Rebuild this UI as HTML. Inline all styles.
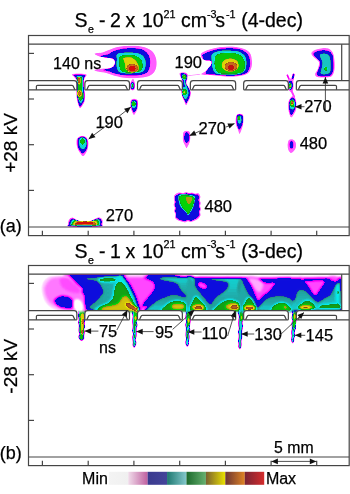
<!DOCTYPE html><html><head><meta charset="utf-8"><style>html,body{margin:0;padding:0;background:#fff;}svg{display:block;}</style></head><body>
<svg width="350" height="494" viewBox="0 0 350 494">
<defs><filter id="cm" filterUnits="userSpaceOnUse" x="0" y="0" width="350" height="494" color-interpolation-filters="sRGB"><feGaussianBlur stdDeviation="0.65"/><feComponentTransfer><feFuncR type="table" tableValues="1.000 1.000 1.000 1.000 1.000 1.000 1.000 1.000 1.000 1.000 1.000 1.000 1.000 1.000 1.000 1.000 1.000 1.000 1.000 1.000 1.000 1.000 1.000 1.000 1.000 1.000 1.000 1.000 1.000 1.000 1.000 1.000 1.000 1.000 1.000 1.000 1.000 1.000 1.000 1.000 1.000 1.000 1.000 1.000 1.000 1.000 1.000 1.000 0.980 0.969 0.958 0.946 0.935 0.923 0.912 0.900 0.889 0.877 0.866 0.855 0.020 0.022 0.025 0.027 0.029 0.032 0.034 0.037 0.039 0.042 0.044 0.047 0.049 0.051 0.054 0.056 0.059 0.061 0.064 0.066 0.069 0.071 0.074 0.076 0.137 0.135 0.133 0.131 0.129 0.127 0.125 0.124 0.122 0.120 0.098 0.088 0.078 0.069 0.059 0.049 0.039 0.029 0.020 0.010 0.098 0.093 0.088 0.083 0.078 0.074 0.069 0.064 0.059 0.054 0.049 0.044 0.039 0.034 0.029 0.025 0.020 0.015 0.010 0.005 0.647 0.663 0.678 0.694 0.710 0.725 0.741 0.757 0.773 0.788 0.804 0.820 0.835 0.851 0.867 0.882 0.898 0.914 0.929 0.945 0.549 0.566 0.582 0.599 0.616 0.632 0.649 0.666 0.682 0.699 0.716 0.732 0.749 0.766 0.782 0.799 0.816 0.832 0.849 0.866 0.745 0.752 0.759 0.765 0.772 0.779 0.785 0.792 0.799 0.805 0.812 0.819 0.826 0.832 0.839 0.846 0.852 0.859 0.866 0.873 0.879 0.886 0.893 0.899 0.906 0.913 0.920 0.926 0.933 0.940 0.946 0.953 0.960 0.966 0.973 0.980 0.987"/><feFuncG type="table" tableValues="1.000 1.000 1.000 1.000 1.000 1.000 0.980 0.959 0.937 0.915 0.893 0.871 0.850 0.828 0.806 0.784 0.763 0.741 0.719 0.697 0.675 0.654 0.632 0.610 0.588 0.565 0.542 0.520 0.497 0.474 0.451 0.428 0.405 0.382 0.359 0.337 0.314 0.291 0.268 0.245 0.222 0.199 0.176 0.154 0.131 0.108 0.085 0.062 0.000 0.000 0.000 0.000 0.000 0.000 0.000 0.000 0.000 0.000 0.000 0.000 0.020 0.022 0.025 0.027 0.029 0.032 0.034 0.037 0.039 0.042 0.044 0.047 0.049 0.051 0.054 0.056 0.059 0.061 0.064 0.066 0.069 0.071 0.074 0.076 0.529 0.549 0.569 0.588 0.608 0.627 0.647 0.667 0.686 0.706 0.765 0.784 0.804 0.824 0.843 0.863 0.882 0.902 0.922 0.941 0.529 0.548 0.567 0.585 0.604 0.623 0.641 0.660 0.678 0.697 0.716 0.734 0.753 0.772 0.790 0.809 0.827 0.846 0.865 0.883 0.549 0.569 0.588 0.608 0.627 0.647 0.667 0.686 0.706 0.725 0.745 0.765 0.784 0.804 0.824 0.843 0.863 0.882 0.902 0.922 0.235 0.248 0.261 0.274 0.286 0.299 0.312 0.325 0.337 0.350 0.363 0.375 0.388 0.401 0.414 0.426 0.439 0.452 0.465 0.477 0.078 0.076 0.074 0.072 0.070 0.068 0.066 0.064 0.062 0.060 0.058 0.056 0.054 0.052 0.050 0.047 0.045 0.043 0.041 0.039 0.037 0.035 0.033 0.031 0.029 0.027 0.025 0.023 0.021 0.019 0.017 0.014 0.012 0.010 0.008 0.006 0.004"/><feFuncB type="table" tableValues="1.000 1.000 1.000 1.000 1.000 1.000 1.000 1.000 1.000 1.000 1.000 1.000 1.000 1.000 1.000 1.000 1.000 1.000 1.000 1.000 1.000 1.000 1.000 1.000 1.000 1.000 1.000 1.000 1.000 1.000 1.000 1.000 1.000 1.000 1.000 1.000 1.000 1.000 1.000 1.000 1.000 1.000 1.000 1.000 1.000 1.000 1.000 1.000 0.980 0.975 0.971 0.966 0.961 0.956 0.951 0.946 0.941 0.936 0.931 0.926 0.933 0.929 0.924 0.920 0.915 0.910 0.906 0.901 0.897 0.892 0.888 0.883 0.878 0.874 0.869 0.865 0.860 0.856 0.851 0.846 0.842 0.837 0.833 0.828 0.490 0.514 0.537 0.561 0.584 0.608 0.631 0.655 0.678 0.702 0.765 0.784 0.804 0.824 0.843 0.863 0.882 0.902 0.922 0.941 0.118 0.112 0.106 0.100 0.094 0.088 0.082 0.076 0.071 0.065 0.059 0.053 0.047 0.041 0.035 0.029 0.024 0.018 0.012 0.006 0.098 0.093 0.088 0.083 0.078 0.074 0.069 0.064 0.059 0.054 0.049 0.044 0.039 0.034 0.029 0.025 0.020 0.015 0.010 0.005 0.098 0.099 0.100 0.101 0.102 0.103 0.104 0.105 0.106 0.107 0.108 0.109 0.110 0.111 0.112 0.113 0.114 0.115 0.116 0.117 0.078 0.076 0.074 0.072 0.070 0.068 0.066 0.064 0.062 0.060 0.058 0.056 0.054 0.052 0.050 0.047 0.045 0.043 0.041 0.039 0.037 0.035 0.033 0.031 0.029 0.027 0.025 0.023 0.021 0.019 0.017 0.014 0.012 0.010 0.008 0.006 0.004"/></feComponentTransfer></filter><filter id="cm2" filterUnits="userSpaceOnUse" x="0" y="240" width="350" height="254" color-interpolation-filters="sRGB"><feGaussianBlur stdDeviation="0.9"/><feComponentTransfer><feFuncR type="table" tableValues="1.000 1.000 1.000 1.000 1.000 1.000 1.000 1.000 1.000 1.000 1.000 1.000 1.000 1.000 1.000 1.000 1.000 1.000 1.000 1.000 1.000 1.000 1.000 1.000 1.000 1.000 1.000 1.000 1.000 1.000 1.000 1.000 1.000 1.000 1.000 1.000 1.000 1.000 1.000 1.000 1.000 1.000 1.000 1.000 1.000 1.000 1.000 1.000 0.980 0.969 0.958 0.946 0.935 0.923 0.912 0.900 0.889 0.877 0.866 0.855 0.020 0.022 0.025 0.027 0.029 0.032 0.034 0.037 0.039 0.042 0.044 0.047 0.049 0.051 0.054 0.056 0.059 0.061 0.064 0.066 0.069 0.071 0.074 0.076 0.137 0.135 0.133 0.131 0.129 0.127 0.125 0.124 0.122 0.120 0.098 0.088 0.078 0.069 0.059 0.049 0.039 0.029 0.020 0.010 0.098 0.093 0.088 0.083 0.078 0.074 0.069 0.064 0.059 0.054 0.049 0.044 0.039 0.034 0.029 0.025 0.020 0.015 0.010 0.005 0.647 0.663 0.678 0.694 0.710 0.725 0.741 0.757 0.773 0.788 0.804 0.820 0.835 0.851 0.867 0.882 0.898 0.914 0.929 0.945 0.549 0.566 0.582 0.599 0.616 0.632 0.649 0.666 0.682 0.699 0.716 0.732 0.749 0.766 0.782 0.799 0.816 0.832 0.849 0.866 0.745 0.752 0.759 0.765 0.772 0.779 0.785 0.792 0.799 0.805 0.812 0.819 0.826 0.832 0.839 0.846 0.852 0.859 0.866 0.873 0.879 0.886 0.893 0.899 0.906 0.913 0.920 0.926 0.933 0.940 0.946 0.953 0.960 0.966 0.973 0.980 0.987"/><feFuncG type="table" tableValues="1.000 1.000 1.000 1.000 1.000 1.000 0.980 0.959 0.937 0.915 0.893 0.871 0.850 0.828 0.806 0.784 0.763 0.741 0.719 0.697 0.675 0.654 0.632 0.610 0.588 0.565 0.542 0.520 0.497 0.474 0.451 0.428 0.405 0.382 0.359 0.337 0.314 0.291 0.268 0.245 0.222 0.199 0.176 0.154 0.131 0.108 0.085 0.062 0.000 0.000 0.000 0.000 0.000 0.000 0.000 0.000 0.000 0.000 0.000 0.000 0.020 0.022 0.025 0.027 0.029 0.032 0.034 0.037 0.039 0.042 0.044 0.047 0.049 0.051 0.054 0.056 0.059 0.061 0.064 0.066 0.069 0.071 0.074 0.076 0.529 0.549 0.569 0.588 0.608 0.627 0.647 0.667 0.686 0.706 0.765 0.784 0.804 0.824 0.843 0.863 0.882 0.902 0.922 0.941 0.529 0.548 0.567 0.585 0.604 0.623 0.641 0.660 0.678 0.697 0.716 0.734 0.753 0.772 0.790 0.809 0.827 0.846 0.865 0.883 0.549 0.569 0.588 0.608 0.627 0.647 0.667 0.686 0.706 0.725 0.745 0.765 0.784 0.804 0.824 0.843 0.863 0.882 0.902 0.922 0.235 0.248 0.261 0.274 0.286 0.299 0.312 0.325 0.337 0.350 0.363 0.375 0.388 0.401 0.414 0.426 0.439 0.452 0.465 0.477 0.078 0.076 0.074 0.072 0.070 0.068 0.066 0.064 0.062 0.060 0.058 0.056 0.054 0.052 0.050 0.047 0.045 0.043 0.041 0.039 0.037 0.035 0.033 0.031 0.029 0.027 0.025 0.023 0.021 0.019 0.017 0.014 0.012 0.010 0.008 0.006 0.004"/><feFuncB type="table" tableValues="1.000 1.000 1.000 1.000 1.000 1.000 1.000 1.000 1.000 1.000 1.000 1.000 1.000 1.000 1.000 1.000 1.000 1.000 1.000 1.000 1.000 1.000 1.000 1.000 1.000 1.000 1.000 1.000 1.000 1.000 1.000 1.000 1.000 1.000 1.000 1.000 1.000 1.000 1.000 1.000 1.000 1.000 1.000 1.000 1.000 1.000 1.000 1.000 0.980 0.975 0.971 0.966 0.961 0.956 0.951 0.946 0.941 0.936 0.931 0.926 0.933 0.929 0.924 0.920 0.915 0.910 0.906 0.901 0.897 0.892 0.888 0.883 0.878 0.874 0.869 0.865 0.860 0.856 0.851 0.846 0.842 0.837 0.833 0.828 0.490 0.514 0.537 0.561 0.584 0.608 0.631 0.655 0.678 0.702 0.765 0.784 0.804 0.824 0.843 0.863 0.882 0.902 0.922 0.941 0.118 0.112 0.106 0.100 0.094 0.088 0.082 0.076 0.071 0.065 0.059 0.053 0.047 0.041 0.035 0.029 0.024 0.018 0.012 0.006 0.098 0.093 0.088 0.083 0.078 0.074 0.069 0.064 0.059 0.054 0.049 0.044 0.039 0.034 0.029 0.025 0.020 0.015 0.010 0.005 0.098 0.099 0.100 0.101 0.102 0.103 0.104 0.105 0.106 0.107 0.108 0.109 0.110 0.111 0.112 0.113 0.114 0.115 0.116 0.117 0.078 0.076 0.074 0.072 0.070 0.068 0.066 0.064 0.062 0.060 0.058 0.056 0.054 0.052 0.050 0.047 0.045 0.043 0.041 0.039 0.037 0.035 0.033 0.031 0.029 0.027 0.025 0.023 0.021 0.019 0.017 0.014 0.012 0.010 0.008 0.006 0.004"/></feComponentTransfer></filter></defs>
<rect width="350" height="494" fill="#fff"/>
<g filter="url(#cm)"><rect x="0" y="0" width="350" height="240" fill="#000"/><rect x="0" y="310.6" width="350" height="183.4" fill="#000"/>
<path d="M94.5 53.6 C95.17 52.88 100.42 52.87 103 52.2 C105.58 51.53 107.83 50.42 110 49.6 C112.17 48.78 114 47.87 116 47.3 C118 46.73 119.17 46.45 122 46.2 C124.83 45.95 129.33 45.67 133 45.8 C136.67 45.93 140.83 46.13 144 47 C147.17 47.87 150 49.17 152 51 C154 52.83 155.25 55.5 156 58 C156.75 60.5 156.83 63.58 156.5 66 C156.17 68.42 155.42 70.75 154 72.5 C152.58 74.25 150.67 75.58 148 76.5 C145.33 77.42 141.67 77.75 138 78 C134.33 78.25 129.83 78.33 126 78 C122.17 77.67 118.33 76.83 115 76 C111.67 75.17 109 73.75 106 73 C103 72.25 98.92 72 97 71.5 C95.08 71 93.83 70.45 94.5 70 C95.17 69.55 98.42 69.13 101 68.8 C103.58 68.47 107.83 68.63 110 68 C112.17 67.37 113.17 66 114 65 C114.83 64 115.17 63 115 62 C114.83 61 114.33 59.7 113 59 C111.67 58.3 109.33 58.22 107 57.8 C104.67 57.38 101.08 57.2 99 56.5 C96.92 55.8 93.83 54.32 94.5 53.6Z" fill="rgb(43,43,43)"/>
<path d="M100.5 56.2 C100.83 55.65 105.75 55.07 108 54.2 C110.25 53.33 112 51.82 114 51 C116 50.18 118 49.72 120 49.3 C122 48.88 123.17 48.62 126 48.5 C128.83 48.38 133.83 48.18 137 48.6 C140.17 49.02 142.92 49.6 145 51 C147.08 52.4 148.67 54.67 149.5 57 C150.33 59.33 150.33 62.5 150 65 C149.67 67.5 149.17 70.33 147.5 72 C145.83 73.67 143.25 74.42 140 75 C136.75 75.58 131.83 75.67 128 75.5 C124.17 75.33 120.17 74.67 117 74 C113.83 73.33 111.25 72.17 109 71.5 C106.75 70.83 103.5 70.48 103.5 70 C103.5 69.52 107.33 69.18 109 68.6 C110.67 68.02 112.5 67.55 113.5 66.5 C114.5 65.45 115.08 63.6 115 62.3 C114.92 61 114.5 59.5 113 58.7 C111.5 57.9 108.08 57.92 106 57.5 C103.92 57.08 100.17 56.75 100.5 56.2Z" fill="rgb(94,94,94)"/>
<path d="M117 54 C118.38 52.93 122 52.8 125 52.6 C128 52.4 132.17 52.4 135 52.8 C137.83 53.2 140.25 53.72 142 55 C143.75 56.28 144.92 58.5 145.5 60.5 C146.08 62.5 146 65.08 145.5 67 C145 68.92 144.42 70.95 142.5 72 C140.58 73.05 137.08 73.08 134 73.3 C130.92 73.52 126.58 73.6 124 73.3 C121.42 73 119.75 72.72 118.5 71.5 C117.25 70.28 116.8 68.08 116.5 66 C116.2 63.92 116.62 61 116.7 59 C116.78 57 115.62 55.07 117 54Z" fill="rgb(125,125,125)"/>
<path d="M120 56.5 C121.42 55.17 125.33 55.08 128 55 C130.67 54.92 133.83 55.25 136 56 C138.17 56.75 139.92 57.92 141 59.5 C142.08 61.08 142.5 63.67 142.5 65.5 C142.5 67.33 142.42 69.38 141 70.5 C139.58 71.62 136.67 71.92 134 72.2 C131.33 72.48 127.25 72.57 125 72.2 C122.75 71.83 121.42 71.53 120.5 70 C119.58 68.47 119.58 65.25 119.5 63 C119.42 60.75 118.58 57.83 120 56.5Z" fill="rgb(150,150,150)"/>
<path d="M123.6 58 C124.67 57.55 128.18 57.05 130 57.3 C131.82 57.55 133.25 58.47 134.5 59.5 C135.75 60.53 136.78 62.08 137.5 63.5 C138.22 64.92 138.97 66.67 138.8 68 C138.63 69.33 137.97 70.87 136.5 71.5 C135.03 72.13 131.78 72.13 130 71.8 C128.22 71.47 126.63 70.8 125.8 69.5 C124.97 68.2 125.37 65.58 125 64 C124.63 62.42 123.83 61 123.6 60 C123.37 59 122.53 58.45 123.6 58Z" fill="rgb(176,176,176)"/>
<ellipse cx="132.3" cy="68.3" rx="5.6" ry="4.3" fill="rgb(201,201,201)"/>
<ellipse cx="132.4" cy="68.3" rx="3" ry="2.6" fill="rgb(230,230,230)"/>
<path d="M188 75.8 L194 75 L200 74.2" fill="none" stroke="rgb(31,31,31)" stroke-width="1.1" stroke-linecap="round" stroke-linejoin="round"/>
<path d="M201.5 53 C202.95 51.68 206.92 50.3 210 49.3 C213.08 48.3 216.33 47.47 220 47 C223.67 46.53 228.17 46.25 232 46.5 C235.83 46.75 240 47.42 243 48.5 C246 49.58 248.5 50.92 250 53 C251.5 55.08 251.83 58.33 252 61 C252.17 63.67 252 66.75 251 69 C250 71.25 248.5 73.25 246 74.5 C243.5 75.75 239.67 76.17 236 76.5 C232.33 76.83 227.67 76.67 224 76.5 C220.33 76.33 217 75.75 214 75.5 C211 75.25 208.17 75.22 206 75 C203.83 74.78 201.17 74.78 201 74.2 C200.83 73.62 203.67 72.65 205 71.5 C206.33 70.35 208 68.42 209 67.3 C210 66.18 210.5 65.77 211 64.8 C211.5 63.83 212.33 62.25 212 61.5 C211.67 60.75 210.33 60.55 209 60.3 C207.67 60.05 205.28 60.52 204 60 C202.72 59.48 201.72 58.37 201.3 57.2 C200.88 56.03 200.05 54.32 201.5 53Z" fill="rgb(43,43,43)"/>
<path d="M203 54.5 C204.38 53.47 208.17 51.95 211 51 C213.83 50.05 216.5 49.25 220 48.8 C223.5 48.35 228.33 48.1 232 48.3 C235.67 48.5 239.33 48.97 242 50 C244.67 51.03 246.67 52.67 248 54.5 C249.33 56.33 249.75 58.75 250 61 C250.25 63.25 250.25 65.92 249.5 68 C248.75 70.08 247.75 72.25 245.5 73.5 C243.25 74.75 239.58 75.17 236 75.5 C232.42 75.83 227.67 75.67 224 75.5 C220.33 75.33 217 74.78 214 74.5 C211 74.22 207 74.77 206 73.8 C205 72.83 207.17 70.13 208 68.7 C208.83 67.27 210.23 66.32 211 65.2 C211.77 64.08 212.85 62.78 212.6 62 C212.35 61.22 210.85 60.82 209.5 60.5 C208.15 60.18 205.63 60.65 204.5 60.1 C203.37 59.55 202.95 58.13 202.7 57.2 C202.45 56.27 201.62 55.53 203 54.5Z" fill="rgb(94,94,94)"/>
<path d="M212 54 C213.25 52.5 216 51.57 219 51 C222 50.43 226.5 50.43 230 50.6 C233.5 50.77 237.42 50.93 240 52 C242.58 53.07 244.42 55 245.5 57 C246.58 59 246.58 61.75 246.5 64 C246.42 66.25 246.42 68.78 245 70.5 C243.58 72.22 241.17 73.62 238 74.3 C234.83 74.98 229.67 74.73 226 74.6 C222.33 74.47 218.25 74.6 216 73.5 C213.75 72.4 213.25 70.25 212.5 68 C211.75 65.75 211.58 62.33 211.5 60 C211.42 57.67 210.75 55.5 212 54Z" fill="rgb(125,125,125)"/>
<path d="M215.5 56 C216.7 54.88 219.25 53.8 222 53.3 C224.75 52.8 229 52.72 232 53 C235 53.28 238 53.83 240 55 C242 56.17 243.2 58.17 244 60 C244.8 61.83 244.97 64.08 244.8 66 C244.63 67.92 244.47 70.23 243 71.5 C241.53 72.77 238.83 73.25 236 73.6 C233.17 73.95 229 73.78 226 73.6 C223 73.42 219.83 73.6 218 72.5 C216.17 71.4 215.53 69.08 215 67 C214.47 64.92 214.72 61.83 214.8 60 C214.88 58.17 214.3 57.12 215.5 56Z" fill="rgb(150,150,150)"/>
<ellipse cx="230.2" cy="65" rx="8.6" ry="6.6" fill="rgb(176,176,176)"/>
<ellipse cx="231" cy="66.4" rx="6.2" ry="4.5" fill="rgb(201,201,201)"/>
<ellipse cx="231.2" cy="67.4" rx="3.3" ry="2.5" fill="rgb(215,215,215)"/>
<path d="M311.5 52.5 C312.08 51.42 314.25 50.22 316 49.5 C317.75 48.78 319.83 48.32 322 48.2 C324.17 48.08 327.17 48 329 48.8 C330.83 49.6 332.08 51.13 333 53 C333.92 54.87 334.25 57.17 334.5 60 C334.75 62.83 335 67.25 334.5 70 C334 72.75 333.25 75.25 331.5 76.5 C329.75 77.75 326.42 77.42 324 77.5 C321.58 77.58 318.5 77.58 317 77 C315.5 76.42 314.92 75.25 315 74 C315.08 72.75 316.83 71.33 317.5 69.5 C318.17 67.67 319.08 64.58 319 63 C318.92 61.42 318.08 61.17 317 60 C315.92 58.83 313.42 57.25 312.5 56 C311.58 54.75 310.92 53.58 311.5 52.5Z" fill="rgb(43,43,43)"/>
<path d="M313.5 53.2 C314.12 52.37 316.42 51.5 318 51 C319.58 50.5 321.17 50.17 323 50.2 C324.83 50.23 327.42 50.4 329 51.2 C330.58 52 331.78 53.37 332.5 55 C333.22 56.63 333.17 58.5 333.3 61 C333.43 63.5 333.77 67.58 333.3 70 C332.83 72.42 332.05 74.43 330.5 75.5 C328.95 76.57 326 76.32 324 76.4 C322 76.48 319.7 76.48 318.5 76 C317.3 75.52 316.75 74.75 316.8 73.5 C316.85 72.25 318.22 70.25 318.8 68.5 C319.38 66.75 320.4 64.5 320.3 63 C320.2 61.5 319.2 60.67 318.2 59.5 C317.2 58.33 315.08 57.05 314.3 56 C313.52 54.95 312.88 54.03 313.5 53.2Z" fill="rgb(94,94,94)"/>
<path d="M320 54.5 C320.75 53.77 323.5 53.43 325 53.6 C326.5 53.77 328.08 54.43 329 55.5 C329.92 56.57 330.2 58.08 330.5 60 C330.8 61.92 330.88 64.92 330.8 67 C330.72 69.08 330.97 71.25 330 72.5 C329.03 73.75 326.58 74.33 325 74.5 C323.42 74.67 321.08 74.58 320.5 73.5 C319.92 72.42 321.22 69.83 321.5 68 C321.78 66.17 322.37 64.17 322.2 62.5 C322.03 60.83 320.87 59.33 320.5 58 C320.13 56.67 319.25 55.23 320 54.5Z" fill="rgb(120,120,120)"/>
<ellipse cx="325.8" cy="68.7" rx="1.5" ry="2" fill="rgb(153,153,153)"/>
<path d="M72 74.3 C72.75 73.65 76.58 73.57 79 73.6 C81.42 73.63 85.42 73.93 86.5 74.5 C87.58 75.07 85.88 76.08 85.5 77 C85.12 77.92 84.4 78.17 84.2 80 C84 81.83 84.13 85.5 84.3 88 C84.47 90.5 85.12 92.83 85.2 95 C85.28 97.17 85.25 99.25 84.8 101 C84.35 102.75 83.3 104.28 82.5 105.5 C81.7 106.72 80.75 108.55 80 108.3 C79.25 108.05 78.58 105.88 78 104 C77.42 102.12 76.8 99.67 76.5 97 C76.2 94.33 76.2 90.67 76.2 88 C76.2 85.33 76.78 82.75 76.5 81 C76.22 79.25 75.25 78.62 74.5 77.5 C73.75 76.38 71.25 74.95 72 74.3Z" fill="rgb(43,43,43)"/>
<path d="M73.5 75 C74.07 74.5 77.03 74.47 79 74.5 C80.97 74.53 84.42 74.7 85.3 75.2 C86.18 75.7 84.58 76.62 84.3 77.5 C84.02 78.38 83.7 78.75 83.6 80.5 C83.5 82.25 83.55 85.58 83.7 88 C83.85 90.42 84.45 92.92 84.5 95 C84.55 97.08 84.42 98.92 84 100.5 C83.58 102.08 82.67 103.45 82 104.5 C81.33 105.55 80.62 107.05 80 106.8 C79.38 106.55 78.77 104.63 78.3 103 C77.83 101.37 77.43 99.5 77.2 97 C76.97 94.5 76.92 90.67 76.9 88 C76.88 85.33 77.32 82.75 77.1 81 C76.88 79.25 76.2 78.5 75.6 77.5 C75 76.5 72.93 75.5 73.5 75Z" fill="rgb(94,94,94)"/>
<path d="M76.5 76.5 C76.9 75.67 78.95 75.92 80 76 C81.05 76.08 82.33 76.17 82.8 77 C83.27 77.83 82.78 79.17 82.8 81 C82.82 82.83 82.77 85.67 82.9 88 C83.03 90.33 83.58 93 83.6 95 C83.62 97 83.43 98.67 83 100 C82.57 101.33 81.67 102.83 81 103 C80.33 103.17 79.53 102.17 79 101 C78.47 99.83 78.03 98.17 77.8 96 C77.57 93.83 77.63 90.5 77.6 88 C77.57 85.5 77.78 82.92 77.6 81 C77.42 79.08 76.1 77.33 76.5 76.5Z" fill="rgb(125,125,125)"/>
<path d="M77.4 77.3 C77.75 76.47 79.23 76.8 80 77 C80.77 77.2 81.65 77.17 82 78.5 C82.35 79.83 82.05 82.75 82.1 85 C82.15 87.25 82.23 89.83 82.3 92 C82.37 94.17 82.8 96.58 82.5 98 C82.2 99.42 81.15 100.58 80.5 100.5 C79.85 100.42 78.98 99.25 78.6 97.5 C78.22 95.75 78.32 92.58 78.2 90 C78.08 87.42 78.03 84.12 77.9 82 C77.77 79.88 77.05 78.13 77.4 77.3Z" fill="rgb(150,150,150)"/>
<ellipse cx="79.2" cy="80.8" rx="1.5" ry="3.8" fill="rgb(176,176,176)"/>
<ellipse cx="79" cy="80.5" rx="1" ry="2.7" fill="rgb(201,201,201)"/>
<ellipse cx="79.4" cy="93.6" rx="2.4" ry="3.3" fill="rgb(176,176,176)"/>
<ellipse cx="79.3" cy="93.4" rx="1.5" ry="2" fill="rgb(201,201,201)"/>
<path d="M133 78.8 C133.65 78.8 134.37 80.8 134.7 82 C135.03 83.2 135.08 84.67 135 86 C134.92 87.33 134.87 89.33 134.2 90 C133.53 90.67 131.7 90.67 131 90 C130.3 89.33 130.03 87.33 130 86 C129.97 84.67 130.3 83.2 130.8 82 C131.3 80.8 132.35 78.8 133 78.8Z" fill="rgb(43,43,43)"/>
<ellipse cx="132.5" cy="85.8" rx="2.1" ry="3.8" fill="rgb(94,94,94)"/>
<ellipse cx="132.4" cy="85.6" rx="1.2" ry="2.8" fill="rgb(125,125,125)"/>
<ellipse cx="132.3" cy="85.2" rx="0.7" ry="1.6" fill="rgb(145,145,145)"/>
<path d="M179.7 73 C180.37 72.38 182.68 72.13 184 72.3 C185.32 72.47 187.02 72.88 187.6 74 C188.18 75.12 187.68 77.5 187.5 79 C187.32 80.5 186.33 81.67 186.5 83 C186.67 84.33 187.78 85.5 188.5 87 C189.22 88.5 190.55 90.17 190.8 92 C191.05 93.83 190.55 96.17 190 98 C189.45 99.83 188.17 101.73 187.5 103 C186.83 104.27 186.5 105.77 186 105.6 C185.5 105.43 185.17 103.6 184.5 102 C183.83 100.4 182.58 98 182 96 C181.42 94 180.92 92 181 90 C181.08 88 182.42 85.83 182.5 84 C182.58 82.17 181.92 80.33 181.5 79 C181.08 77.67 180.3 77 180 76 C179.7 75 179.03 73.62 179.7 73Z" fill="rgb(43,43,43)"/>
<path d="M180.5 74 C180.83 73.03 182.92 73.03 184 73.2 C185.08 73.37 186.53 74.03 187 75 C187.47 75.97 187 77.67 186.8 79 C186.6 80.33 185.6 81.67 185.8 83 C186 84.33 187.27 85.5 188 87 C188.73 88.5 189.95 90.33 190.2 92 C190.45 93.67 189.98 95.42 189.5 97 C189.02 98.58 187.88 100.42 187.3 101.5 C186.72 102.58 186.47 103.75 186 103.5 C185.53 103.25 185.08 101.25 184.5 100 C183.92 98.75 182.95 97.67 182.5 96 C182.05 94.33 181.68 92 181.8 90 C181.92 88 183.17 85.83 183.2 84 C183.23 82.17 182.45 80.67 182 79 C181.55 77.33 180.17 74.97 180.5 74Z" fill="rgb(94,94,94)"/>
<ellipse cx="184.2" cy="77.3" rx="2.3" ry="3" fill="rgb(125,125,125)"/>
<path d="M184.3 79 L185 84 L186.8 88" fill="none" stroke="rgb(125,125,125)" stroke-width="1.6" stroke-linecap="round" stroke-linejoin="round"/>
<path d="M182.5 88 C183.05 87.08 184.58 86.17 185.5 86.5 C186.42 86.83 187.5 88.75 188 90 C188.5 91.25 188.67 92.67 188.5 94 C188.33 95.33 187.58 97.17 187 98 C186.42 98.83 185.67 99.33 185 99 C184.33 98.67 183.47 97.17 183 96 C182.53 94.83 182.28 93.33 182.2 92 C182.12 90.67 181.95 88.92 182.5 88Z" fill="rgb(125,125,125)"/>
<ellipse cx="184.2" cy="77" rx="1.8" ry="2.2" fill="rgb(148,148,148)"/>
<ellipse cx="184.5" cy="92.3" rx="2.2" ry="3" fill="rgb(148,148,148)"/>
<ellipse cx="184.3" cy="92.3" rx="0.9" ry="1.1" fill="rgb(178,178,178)"/>
<ellipse cx="184.1" cy="76.8" rx="0.6" ry="0.7" fill="rgb(168,168,168)"/>
<path d="M287.3 75.2 L289.4 80" fill="none" stroke="rgb(66,66,66)" stroke-width="1.8" stroke-linecap="round" stroke-linejoin="round"/>
<path d="M293.6 74.6 L292.2 80" fill="none" stroke="rgb(87,87,87)" stroke-width="2.2" stroke-linecap="round" stroke-linejoin="round"/>
<path d="M288 79.5 C288.77 78.5 291.88 78.25 292.8 79 C293.72 79.75 293.43 82.17 293.5 84 C293.57 85.83 293.58 88.67 293.2 90 C292.82 91.33 291.97 92 291.2 92 C290.43 92 289.1 91.17 288.6 90 C288.1 88.83 288.3 86.75 288.2 85 C288.1 83.25 287.23 80.5 288 79.5Z" fill="rgb(43,43,43)"/>
<ellipse cx="290.6" cy="85.3" rx="2.2" ry="4.6" fill="rgb(94,94,94)"/>
<ellipse cx="290.2" cy="85.8" rx="1.3" ry="3.1" fill="rgb(145,145,145)"/>
<ellipse cx="290.2" cy="86.2" rx="0.7" ry="1.6" fill="rgb(168,168,168)"/>
<path d="M291.5 91 L294.3 97" fill="none" stroke="rgb(51,51,51)" stroke-width="2" stroke-linecap="round" stroke-linejoin="round"/>
<path d="M292.5 96 C293.58 95.75 294.83 97.17 295.5 98.5 C296.17 99.83 296.42 102.08 296.5 104 C296.58 105.92 296.5 108.17 296 110 C295.5 111.83 294.33 113.75 293.5 115 C292.67 116.25 291.75 117.83 291 117.5 C290.25 117.17 289.5 114.92 289 113 C288.5 111.08 288 108.17 288 106 C288 103.83 288.25 101.67 289 100 C289.75 98.33 291.42 96.25 292.5 96Z" fill="rgb(43,43,43)"/>
<path d="M292.5 97.5 C293.33 97.42 294.45 98.42 295 99.5 C295.55 100.58 295.77 102.42 295.8 104 C295.83 105.58 295.7 107.42 295.2 109 C294.7 110.58 293.5 112.5 292.8 113.5 C292.1 114.5 291.55 115.42 291 115 C290.45 114.58 289.83 112.67 289.5 111 C289.17 109.33 288.92 106.83 289 105 C289.08 103.17 289.42 101.25 290 100 C290.58 98.75 291.67 97.58 292.5 97.5Z" fill="rgb(94,94,94)"/>
<ellipse cx="292.2" cy="104.5" rx="2.7" ry="5" fill="rgb(125,125,125)"/>
<ellipse cx="292.2" cy="103.6" rx="2.2" ry="3.6" fill="rgb(150,150,150)"/>
<ellipse cx="292.1" cy="102.9" rx="1.5" ry="2.2" fill="rgb(176,176,176)"/>
<ellipse cx="292.1" cy="102.5" rx="0.9" ry="1.2" fill="rgb(201,201,201)"/>
<path d="M131 100 C131.62 99.3 132.92 98.8 134 98.8 C135.08 98.8 136.8 99.13 137.5 100 C138.2 100.87 138.2 102.5 138.2 104 C138.2 105.5 137.95 107.5 137.5 109 C137.05 110.5 136.08 112 135.5 113 C134.92 114 134.58 115.17 134 115 C133.42 114.83 132.58 113.33 132 112 C131.42 110.67 130.78 108.5 130.5 107 C130.22 105.5 130.22 104.17 130.3 103 C130.38 101.83 130.38 100.7 131 100Z" fill="rgb(43,43,43)"/>
<path d="M131.8 100.5 C132.27 99.97 133.17 99.75 134 99.8 C134.83 99.85 136.23 100.1 136.8 100.8 C137.37 101.5 137.4 102.72 137.4 104 C137.4 105.28 137.2 107.25 136.8 108.5 C136.4 109.75 135.52 110.83 135 111.5 C134.48 112.17 134.15 112.75 133.7 112.5 C133.25 112.25 132.7 111.08 132.3 110 C131.9 108.92 131.48 107.17 131.3 106 C131.12 104.83 131.12 103.92 131.2 103 C131.28 102.08 131.33 101.03 131.8 100.5Z" fill="rgb(94,94,94)"/>
<ellipse cx="133.8" cy="104.5" rx="2.4" ry="3.8" fill="rgb(125,125,125)"/>
<ellipse cx="133.7" cy="103.9" rx="2" ry="2.3" fill="rgb(150,150,150)"/>
<path d="M77.5 138 C78.43 136.97 80.5 135.88 82 135.8 C83.5 135.72 85.43 136.47 86.5 137.5 C87.57 138.53 88.15 140.25 88.4 142 C88.65 143.75 88.4 146.17 88 148 C87.6 149.83 86.83 151.62 86 153 C85.17 154.38 84 156.3 83 156.3 C82 156.3 80.95 154.38 80 153 C79.05 151.62 77.9 149.83 77.3 148 C76.7 146.17 76.37 143.67 76.4 142 C76.43 140.33 76.57 139.03 77.5 138Z" fill="rgb(43,43,43)"/>
<path d="M78.2 138.5 C78.95 137.58 80.7 136.58 82 136.5 C83.3 136.42 85.08 137.08 86 138 C86.92 138.92 87.3 140.42 87.5 142 C87.7 143.58 87.57 145.92 87.2 147.5 C86.83 149.08 86.08 150.5 85.3 151.5 C84.52 152.5 83.38 153.58 82.5 153.5 C81.62 153.42 80.75 152.08 80 151 C79.25 149.92 78.42 148.5 78 147 C77.58 145.5 77.47 143.42 77.5 142 C77.53 140.58 77.45 139.42 78.2 138.5Z" fill="rgb(94,94,94)"/>
<path d="M79.4 139 C79.95 137.83 81.48 137.5 82.5 137.5 C83.52 137.5 84.83 138.17 85.5 139 C86.17 139.83 86.42 141.25 86.5 142.5 C86.58 143.75 86.5 145.38 86 146.5 C85.5 147.62 84.38 148.95 83.5 149.2 C82.62 149.45 81.42 148.78 80.7 148 C79.98 147.22 79.42 146 79.2 144.5 C78.98 143 78.85 140.17 79.4 139Z" fill="rgb(125,125,125)"/>
<ellipse cx="82.4" cy="141.4" rx="2.2" ry="3" fill="rgb(148,148,148)"/>
<path d="M183.5 132 C184.12 131.13 185.45 130.8 186.5 130.8 C187.55 130.8 189.15 130.97 189.8 132 C190.45 133.03 190.4 135.33 190.4 137 C190.4 138.67 190.2 140.5 189.8 142 C189.4 143.5 188.55 144.97 188 146 C187.45 147.03 187 148.28 186.5 148.2 C186 148.12 185.58 146.7 185 145.5 C184.42 144.3 183.37 142.58 183 141 C182.63 139.42 182.72 137.5 182.8 136 C182.88 134.5 182.88 132.87 183.5 132Z" fill="rgb(43,43,43)"/>
<ellipse cx="186.8" cy="137.5" rx="2.7" ry="5.4" fill="rgb(89,89,89)"/>
<path d="M237 114.5 C237.7 113.63 238.8 113.72 239.8 113.8 C240.8 113.88 242.37 114.05 243 115 C243.63 115.95 243.6 117.83 243.6 119.5 C243.6 121.17 243.35 123.25 243 125 C242.65 126.75 242.08 128.5 241.5 130 C240.92 131.5 240.08 134 239.5 134 C238.92 134 238.58 131.5 238 130 C237.42 128.5 236.4 126.83 236 125 C235.6 123.17 235.43 120.75 235.6 119 C235.77 117.25 236.3 115.37 237 114.5Z" fill="rgb(43,43,43)"/>
<path d="M237.3 115 C237.85 114.4 238.92 114.3 239.8 114.4 C240.68 114.5 242.07 114.75 242.6 115.6 C243.13 116.45 243.03 118.02 243 119.5 C242.97 120.98 242.82 123 242.4 124.5 C241.98 126 241.07 127.67 240.5 128.5 C239.93 129.33 239.5 129.83 239 129.5 C238.5 129.17 237.92 127.75 237.5 126.5 C237.08 125.25 236.67 123.42 236.5 122 C236.33 120.58 236.37 119.17 236.5 118 C236.63 116.83 236.75 115.6 237.3 115Z" fill="rgb(94,94,94)"/>
<ellipse cx="239.5" cy="119.8" rx="2" ry="4" fill="rgb(125,125,125)"/>
<ellipse cx="239" cy="118" rx="1.3" ry="2" fill="rgb(148,148,148)"/>
<path d="M288.5 140.5 C289.17 139.47 290.5 139.3 291.5 139.3 C292.5 139.3 293.73 139.72 294.5 140.5 C295.27 141.28 295.93 142.67 296.1 144 C296.27 145.33 296.02 147.17 295.5 148.5 C294.98 149.83 293.83 151.25 293 152 C292.17 152.75 291.28 153.33 290.5 153 C289.72 152.67 288.8 151.25 288.3 150 C287.8 148.75 287.47 147.08 287.5 145.5 C287.53 143.92 287.83 141.53 288.5 140.5Z" fill="rgb(43,43,43)"/>
<ellipse cx="291.5" cy="144.8" rx="1.9" ry="4" fill="rgb(89,89,89)"/>
<path d="M174.2 195.5 C174.73 194.5 176.03 193.52 177 193 C177.97 192.48 179 192.4 180 192.4 C181 192.4 182 193.07 183 193 C184 192.93 185 192.03 186 192 C187 191.97 188 192.73 189 192.8 C190 192.87 190.92 192.28 192 192.4 C193.08 192.52 194.42 193.37 195.5 193.5 C196.58 193.63 197.67 192.7 198.5 193.2 C199.33 193.7 200.28 195.37 200.5 196.5 C200.72 197.63 199.75 198.92 199.8 200 C199.85 201.08 200.73 202 200.8 203 C200.87 204 200.17 205 200.2 206 C200.23 207 201 208 201 209 C201 210 200.27 210.92 200.2 212 C200.13 213.08 200.97 214.33 200.6 215.5 C200.23 216.67 199.02 218.12 198 219 C196.98 219.88 195.67 220.3 194.5 220.8 C193.33 221.3 192.08 221.93 191 222 C189.92 222.07 189 221.13 188 221.2 C187 221.27 186.17 222.33 185 222.4 C183.83 222.47 182.25 221.97 181 221.6 C179.75 221.23 178.5 220.83 177.5 220.2 C176.5 219.57 175.37 218.83 175 217.8 C174.63 216.77 175.47 215.13 175.3 214 C175.13 212.87 174.08 212 174 211 C173.92 210 174.87 209 174.8 208 C174.73 207 173.67 206 173.6 205 C173.53 204 174.37 203 174.4 202 C174.43 201 173.83 200.08 173.8 199 C173.77 197.92 173.67 196.5 174.2 195.5Z" fill="rgb(43,43,43)"/>
<path d="M175.5 196 C176 195.25 177.25 194.92 178 194.5 C178.75 194.08 179.17 193.58 180 193.5 C180.83 193.42 182 194.05 183 194 C184 193.95 185 193.23 186 193.2 C187 193.17 188 193.75 189 193.8 C190 193.85 191 193.38 192 193.5 C193 193.62 194.08 194.37 195 194.5 C195.92 194.63 196.78 193.88 197.5 194.3 C198.22 194.72 199.13 196.05 199.3 197 C199.47 197.95 198.47 199 198.5 200 C198.53 201 199.42 202 199.5 203 C199.58 204 198.95 205 199 206 C199.05 207 199.8 208 199.8 209 C199.8 210 199.05 211 199 212 C198.95 213 199.83 214 199.5 215 C199.17 216 197.92 217.25 197 218 C196.08 218.75 195 219.03 194 219.5 C193 219.97 192 220.72 191 220.8 C190 220.88 189 219.97 188 220 C187 220.03 186.17 220.95 185 221 C183.83 221.05 182.17 220.63 181 220.3 C179.83 219.97 178.83 219.55 178 219 C177.17 218.45 176.28 217.83 176 217 C175.72 216.17 176.47 215 176.3 214 C176.13 213 175.08 212 175 211 C174.92 210 175.83 209 175.8 208 C175.77 207 174.85 206 174.8 205 C174.75 204 175.47 203 175.5 202 C175.53 201 175 200 175 199 C175 198 175 196.75 175.5 196Z" fill="rgb(94,94,94)"/>
<path d="M178.8 195.5 C179.93 194.08 183.33 194.33 186 194.5 C188.67 194.67 193.38 195.25 194.8 196.5 C196.22 197.75 194.8 200.08 194.5 202 C194.2 203.92 193.75 206.17 193 208 C192.25 209.83 190.8 211.75 190 213 C189.2 214.25 188.87 215.58 188.2 215.5 C187.53 215.42 187.12 213.75 186 212.5 C184.88 211.25 182.63 209.58 181.5 208 C180.37 206.42 179.65 205.08 179.2 203 C178.75 200.92 177.67 196.92 178.8 195.5Z" fill="rgb(130,130,130)"/>
<path d="M179.8 196.3 C180.75 195.22 183.67 195.33 186 195.5 C188.33 195.67 192.55 196.22 193.8 197.3 C195.05 198.38 193.8 200.3 193.5 202 C193.2 203.7 192.67 205.83 192 207.5 C191.33 209.17 190.13 210.95 189.5 212 C188.87 213.05 188.7 213.88 188.2 213.8 C187.7 213.72 187.48 212.63 186.5 211.5 C185.52 210.37 183.33 208.58 182.3 207 C181.27 205.42 180.72 203.78 180.3 202 C179.88 200.22 178.85 197.38 179.8 196.3Z" fill="rgb(153,153,153)"/>
<path d="M186.3 197 C187.2 196.47 191.18 196.97 192 197.8 C192.82 198.63 191.78 200.92 191.2 202 C190.62 203.08 189.27 204.47 188.5 204.3 C187.73 204.13 186.97 202.22 186.6 201 C186.23 199.78 185.4 197.53 186.3 197Z" fill="rgb(162,162,162)"/>
<path d="M68 224 C67.83 222.78 68.33 220.57 69 219.5 C69.67 218.43 71 217.72 72 217.6 C73 217.48 73.67 218.25 75 218.8 C76.33 219.35 77.5 220.55 80 220.9 C82.5 221.25 87.5 221.27 90 220.9 C92.5 220.53 93.5 219.3 95 218.7 C96.5 218.1 97.77 217.17 99 217.3 C100.23 217.43 101.82 218.38 102.4 219.5 C102.98 220.62 102.9 222.78 102.5 224 C102.1 225.22 105.42 226.33 100 226.8 C94.58 227.27 75.33 227.27 70 226.8 C64.67 226.33 68.17 225.22 68 224Z" fill="rgb(43,43,43)"/>
<path d="M69 224 C68.83 223 69.42 221.22 70 220.3 C70.58 219.38 71.67 218.63 72.5 218.5 C73.33 218.37 73.75 219.07 75 219.5 C76.25 219.93 77.5 220.83 80 221.1 C82.5 221.37 87.5 221.4 90 221.1 C92.5 220.8 93.5 219.78 95 219.3 C96.5 218.82 97.92 218.03 99 218.2 C100.08 218.37 101.08 219.33 101.5 220.3 C101.92 221.27 101.92 223 101.5 224 C101.08 225 104.08 225.92 99 226.3 C93.92 226.68 76 226.68 71 226.3 C66 225.92 69.17 225 69 224Z" fill="rgb(94,94,94)"/>
<path d="M70.5 224 C70.33 223.23 71 221.75 71.5 221 C72 220.25 72.75 219.62 73.5 219.5 C74.25 219.38 74.92 220 76 220.3 C77.08 220.6 77.67 221.13 80 221.3 C82.33 221.47 87.58 221.52 90 221.3 C92.42 221.08 93.17 220.35 94.5 220 C95.83 219.65 97.08 219.03 98 219.2 C98.92 219.37 99.67 220.2 100 221 C100.33 221.8 100.33 223.23 100 224 C99.67 224.77 102.58 225.33 98 225.6 C93.42 225.87 77.08 225.87 72.5 225.6 C67.92 225.33 70.67 224.77 70.5 224Z" fill="rgb(125,125,125)"/>
<path d="M71.8 224 C71.6 223.37 72.35 222.12 72.8 221.5 C73.25 220.88 73.8 220.42 74.5 220.3 C75.2 220.18 76.08 220.6 77 220.8 C77.92 221 77.83 221.38 80 221.5 C82.17 221.62 87.67 221.65 90 221.5 C92.33 221.35 92.83 220.82 94 220.6 C95.17 220.38 96.2 220 97 220.2 C97.8 220.4 98.5 221.17 98.8 221.8 C99.1 222.43 99.1 223.42 98.8 224 C98.5 224.58 101.13 225.08 97 225.3 C92.87 225.52 78.2 225.52 74 225.3 C69.8 225.08 72 224.63 71.8 224Z" fill="rgb(150,150,150)"/>
<path d="M73.5 224 C73.3 223.47 73.88 222.47 74.3 222 C74.72 221.53 75.05 221.27 76 221.2 C76.95 221.13 77.67 221.53 80 221.6 C82.33 221.67 87.67 221.7 90 221.6 C92.33 221.5 93 221.05 94 221 C95 220.95 95.45 221.05 96 221.3 C96.55 221.55 97.13 221.97 97.3 222.5 C97.47 223.03 97.38 224.05 97 224.5 C96.62 224.95 98.58 225.08 95 225.2 C91.42 225.32 79.08 225.4 75.5 225.2 C71.92 225 73.7 224.53 73.5 224Z" fill="rgb(176,176,176)"/>
<path d="M75.5 223.8 C75.5 223.37 75.92 222.52 77 222.2 C78.08 221.88 79.83 221.95 82 221.9 C84.17 221.85 88 221.88 90 221.9 C92 221.92 93.08 221.78 94 222 C94.92 222.22 95.42 222.73 95.5 223.2 C95.58 223.67 97.58 224.53 94.5 224.8 C91.42 225.07 80.17 224.97 77 224.8 C73.83 224.63 75.5 224.23 75.5 223.8Z" fill="rgb(201,201,201)"/>
<ellipse cx="84.7" cy="222.9" rx="8.7" ry="1.3" fill="rgb(230,230,230)"/>
<path d="M77.5 226.2 L91.5 226.2" fill="none" stroke="rgb(94,94,94)" stroke-width="1.2" stroke-linecap="round" stroke-linejoin="round"/>
<path d="M77.8 309.5 C79.06 308.94 84.45 308.94 85.8 309.5 C87.15 310.06 85.96 311.91 85.87 312.86 C85.79 313.81 85.35 314.43 85.29 315.22 C85.23 316 85.45 316.79 85.5 317.57 C85.54 318.36 85.64 319.15 85.56 319.93 C85.47 320.72 85.08 321.51 84.99 322.29 C84.9 323.08 84.95 323.86 85.02 324.65 C85.09 325.44 85.53 326.22 85.42 327.01 C85.31 327.79 84.42 328.58 84.35 329.37 C84.28 330.15 84.95 330.94 85.01 331.73 C85.07 332.51 84.81 333.3 84.7 334.08 C84.6 334.87 84.42 335.66 84.37 336.44 C84.32 337.23 84.86 338.01 84.4 338.8 C83.94 339.59 82.53 341.2 81.6 341.2 C80.67 341.2 79.37 339.59 78.8 338.8 C78.23 338.01 78.15 337.23 78.2 336.44 C78.25 335.66 79.06 334.87 79.1 334.08 C79.13 333.3 78.54 332.51 78.41 331.73 C78.28 330.94 78.31 330.15 78.33 329.37 C78.34 328.58 78.46 327.79 78.49 327.01 C78.52 326.22 78.6 325.44 78.49 324.65 C78.37 323.86 77.8 323.08 77.8 322.29 C77.79 321.51 78.41 320.72 78.46 319.93 C78.51 319.15 78.24 318.36 78.09 317.57 C77.95 316.79 77.57 316 77.6 315.22 C77.62 314.43 78.22 313.81 78.25 312.86 C78.29 311.91 76.54 310.06 77.8 309.5Z" fill="rgb(43,43,43)"/>
<path d="M78.3 309.5 C79.39 308.94 84.12 308.94 85.3 309.5 C86.48 310.06 85.46 311.91 85.37 312.86 C85.29 313.81 84.85 314.43 84.79 315.22 C84.73 316 84.95 316.79 85 317.57 C85.04 318.36 85.14 319.15 85.06 319.93 C84.97 320.72 84.58 321.51 84.49 322.29 C84.4 323.08 84.45 323.86 84.52 324.65 C84.59 325.44 85.03 326.22 84.92 327.01 C84.81 327.79 83.92 328.58 83.85 329.37 C83.78 330.15 84.45 330.94 84.51 331.73 C84.57 332.51 84.31 333.3 84.2 334.08 C84.1 334.87 83.92 335.66 83.87 336.44 C83.82 337.23 84.28 338.13 83.9 338.8 C83.52 339.47 82.37 340.45 81.6 340.45 C80.83 340.45 79.78 339.47 79.3 338.8 C78.82 338.13 78.65 337.23 78.7 336.44 C78.75 335.66 79.56 334.87 79.6 334.08 C79.63 333.3 79.04 332.51 78.91 331.73 C78.78 330.94 78.81 330.15 78.83 329.37 C78.84 328.58 78.96 327.79 78.99 327.01 C79.02 326.22 79.1 325.44 78.99 324.65 C78.87 323.86 78.3 323.08 78.3 322.29 C78.29 321.51 78.91 320.72 78.96 319.93 C79.01 319.15 78.74 318.36 78.59 317.57 C78.45 316.79 78.07 316 78.1 315.22 C78.12 314.43 78.72 313.81 78.75 312.86 C78.79 311.91 77.21 310.06 78.3 309.5Z" fill="rgb(94,94,94)"/>
<path d="M78.9 309.5 C79.79 308.94 83.72 308.94 84.7 309.5 C85.68 310.06 84.86 311.91 84.77 312.86 C84.69 313.81 84.25 314.43 84.19 315.22 C84.13 316 84.35 316.79 84.4 317.57 C84.44 318.36 84.54 319.15 84.46 319.93 C84.37 320.72 83.98 321.51 83.89 322.29 C83.8 323.08 83.85 323.86 83.92 324.65 C83.99 325.44 84.43 326.22 84.32 327.01 C84.21 327.79 83.32 328.58 83.25 329.37 C83.18 330.15 83.85 330.94 83.91 331.73 C83.97 332.51 83.71 333.3 83.6 334.08 C83.5 334.87 83.32 335.66 83.27 336.44 C83.22 337.23 83.58 338.28 83.3 338.8 C83.02 339.32 82.17 339.55 81.6 339.55 C81.03 339.55 80.28 339.32 79.9 338.8 C79.52 338.28 79.25 337.23 79.3 336.44 C79.35 335.66 80.16 334.87 80.2 334.08 C80.23 333.3 79.64 332.51 79.51 331.73 C79.38 330.94 79.41 330.15 79.43 329.37 C79.44 328.58 79.56 327.79 79.59 327.01 C79.62 326.22 79.7 325.44 79.59 324.65 C79.47 323.86 78.9 323.08 78.9 322.29 C78.89 321.51 79.51 320.72 79.56 319.93 C79.61 319.15 79.34 318.36 79.19 317.57 C79.05 316.79 78.67 316 78.7 315.22 C78.72 314.43 79.32 313.81 79.35 312.86 C79.39 311.91 78.01 310.06 78.9 309.5Z" fill="rgb(125,125,125)"/>
<path d="M79.5 309.5 C80.19 308.94 83.32 308.94 84.1 309.5 C84.88 310.06 84.26 311.91 84.17 312.86 C84.09 313.81 83.65 314.43 83.59 315.22 C83.53 316 83.75 316.79 83.8 317.57 C83.84 318.36 83.94 319.15 83.86 319.93 C83.77 320.72 83.38 321.51 83.29 322.29 C83.2 323.08 83.25 323.86 83.32 324.65 C83.39 325.44 83.83 326.22 83.72 327.01 C83.61 327.79 82.72 328.58 82.65 329.37 C82.58 330.15 83.25 330.94 83.31 331.73 C83.37 332.51 83.11 333.3 83 334.08 C82.9 334.87 82.72 335.66 82.67 336.44 C82.62 337.23 82.88 338.43 82.7 338.8 C82.52 339.17 81.97 338.65 81.6 338.65 C81.23 338.65 80.78 339.17 80.5 338.8 C80.22 338.43 79.85 337.23 79.9 336.44 C79.95 335.66 80.76 334.87 80.8 334.08 C80.83 333.3 80.24 332.51 80.11 331.73 C79.98 330.94 80.01 330.15 80.03 329.37 C80.04 328.58 80.16 327.79 80.19 327.01 C80.22 326.22 80.3 325.44 80.19 324.65 C80.07 323.86 79.5 323.08 79.5 322.29 C79.49 321.51 80.11 320.72 80.16 319.93 C80.21 319.15 79.94 318.36 79.79 317.57 C79.65 316.79 79.27 316 79.3 315.22 C79.32 314.43 79.92 313.81 79.95 312.86 C79.99 311.91 78.81 310.06 79.5 309.5Z" fill="rgb(150,150,150)"/>
<path d="M80.9 314.5 C81.37 313.08 83.33 313.08 83.8 314.5 C84.27 315.92 83.77 320.25 83.7 323 C83.63 325.75 83.62 328.92 83.4 331 C83.18 333.08 82.75 335.5 82.4 335.5 C82.05 335.5 81.53 333.08 81.3 331 C81.07 328.92 81.07 325.75 81 323 C80.93 320.25 80.43 315.92 80.9 314.5Z" fill="rgb(176,176,176)"/>
<ellipse cx="82.8" cy="321" rx="1.1" ry="2.6" fill="rgb(204,204,204)"/>
<ellipse cx="82.1" cy="332" rx="1" ry="2" fill="rgb(199,199,199)"/>
<path d="M132.1 309.5 C133.17 308.85 137.35 308.85 138.3 309.5 C139.25 310.15 137.81 312.28 137.8 313.42 C137.78 314.56 138.23 315.36 138.22 316.33 C138.21 317.31 137.92 318.28 137.75 319.25 C137.57 320.22 137.14 321.19 137.15 322.17 C137.16 323.14 137.85 324.11 137.81 325.08 C137.77 326.06 137.08 327.03 136.93 328 C136.77 328.97 136.88 329.94 136.88 330.92 C136.87 331.89 136.92 332.86 136.89 333.83 C136.87 334.81 136.87 335.78 136.71 336.75 C136.55 337.72 135.94 338.69 135.93 339.67 C135.93 340.64 136.66 341.61 136.67 342.58 C136.69 343.56 136.41 344.61 136 345.5 C135.59 346.39 134.8 347.9 134.2 347.9 C133.6 347.9 132.67 346.39 132.4 345.5 C132.13 344.61 132.57 343.56 132.55 342.58 C132.53 341.61 132.34 340.64 132.26 339.67 C132.18 338.69 131.98 337.72 132.07 336.75 C132.17 335.78 132.87 334.81 132.83 333.83 C132.78 332.86 131.88 331.89 131.81 330.92 C131.73 329.94 132.27 328.97 132.37 328 C132.47 327.03 132.46 326.06 132.4 325.08 C132.35 324.11 132.09 323.14 132.03 322.17 C131.98 321.19 131.99 320.22 132.06 319.25 C132.14 318.28 132.52 317.31 132.49 316.33 C132.46 315.36 131.94 314.56 131.87 313.42 C131.81 312.28 131.03 310.15 132.1 309.5Z" fill="rgb(43,43,43)"/>
<path d="M132.6 309.5 C133.5 308.85 137.02 308.85 137.8 309.5 C138.58 310.15 137.31 312.28 137.3 313.42 C137.28 314.56 137.73 315.36 137.72 316.33 C137.71 317.31 137.42 318.28 137.25 319.25 C137.07 320.22 136.64 321.19 136.65 322.17 C136.66 323.14 137.35 324.11 137.31 325.08 C137.27 326.06 136.58 327.03 136.43 328 C136.27 328.97 136.38 329.94 136.38 330.92 C136.37 331.89 136.42 332.86 136.39 333.83 C136.37 334.81 136.37 335.78 136.21 336.75 C136.05 337.72 135.44 338.69 135.43 339.67 C135.43 340.64 136.16 341.61 136.17 342.58 C136.19 343.56 135.83 344.74 135.5 345.5 C135.17 346.26 134.63 347.15 134.2 347.15 C133.77 347.15 133.09 346.26 132.9 345.5 C132.71 344.74 133.07 343.56 133.05 342.58 C133.03 341.61 132.84 340.64 132.76 339.67 C132.68 338.69 132.48 337.72 132.57 336.75 C132.67 335.78 133.37 334.81 133.33 333.83 C133.28 332.86 132.38 331.89 132.31 330.92 C132.23 329.94 132.77 328.97 132.87 328 C132.97 327.03 132.96 326.06 132.9 325.08 C132.85 324.11 132.59 323.14 132.53 322.17 C132.48 321.19 132.49 320.22 132.56 319.25 C132.64 318.28 133.02 317.31 132.99 316.33 C132.96 315.36 132.44 314.56 132.37 313.42 C132.31 312.28 131.7 310.15 132.6 309.5Z" fill="rgb(94,94,94)"/>
<path d="M133.1 309.5 C133.84 308.85 136.68 308.85 137.3 309.5 C137.92 310.15 136.81 312.28 136.8 313.42 C136.78 314.56 137.23 315.36 137.22 316.33 C137.21 317.31 136.92 318.28 136.75 319.25 C136.57 320.22 136.14 321.19 136.15 322.17 C136.16 323.14 136.85 324.11 136.81 325.08 C136.77 326.06 136.08 327.03 135.93 328 C135.77 328.97 135.88 329.94 135.88 330.92 C135.87 331.89 135.92 332.86 135.89 333.83 C135.87 334.81 135.87 335.78 135.71 336.75 C135.55 337.72 134.94 338.69 134.93 339.67 C134.93 340.64 135.66 341.61 135.67 342.58 C135.69 343.56 135.25 344.86 135 345.5 C134.75 346.14 134.47 346.4 134.2 346.4 C133.93 346.4 133.51 346.14 133.4 345.5 C133.29 344.86 133.57 343.56 133.55 342.58 C133.53 341.61 133.34 340.64 133.26 339.67 C133.18 338.69 132.98 337.72 133.07 336.75 C133.17 335.78 133.87 334.81 133.83 333.83 C133.78 332.86 132.88 331.89 132.81 330.92 C132.73 329.94 133.27 328.97 133.37 328 C133.47 327.03 133.46 326.06 133.4 325.08 C133.35 324.11 133.09 323.14 133.03 322.17 C132.98 321.19 132.99 320.22 133.06 319.25 C133.14 318.28 133.52 317.31 133.49 316.33 C133.46 315.36 132.94 314.56 132.87 313.42 C132.81 312.28 132.36 310.15 133.1 309.5Z" fill="rgb(125,125,125)"/>
<path d="M134 309.5 C134.44 308.85 136.08 308.85 136.4 309.5 C136.72 310.15 135.91 312.28 135.9 313.42 C135.88 314.56 136.33 315.36 136.32 316.33 C136.31 317.31 136.02 318.28 135.85 319.25 C135.67 320.22 135.24 321.19 135.25 322.17 C135.26 323.14 135.95 324.11 135.91 325.08 C135.87 326.06 135.18 327.03 135.03 328 C134.87 328.97 134.96 329.94 134.98 330.92 C134.99 331.89 135.14 332.86 135.11 333.83 C135.08 334.81 134.94 335.78 134.81 336.75 C134.69 337.72 134.34 338.69 134.35 339.67 C134.35 340.64 134.84 341.61 134.86 342.58 C134.88 343.56 134.56 345.09 134.45 345.5 C134.34 345.91 134.28 345.05 134.2 345.05 C134.12 345.05 133.92 345.91 133.95 345.5 C133.98 345.09 134.38 343.56 134.36 342.58 C134.34 341.61 133.91 340.64 133.85 339.67 C133.78 338.69 133.85 337.72 133.97 336.75 C134.1 335.78 134.65 334.81 134.61 333.83 C134.57 332.86 133.77 331.89 133.71 330.92 C133.65 329.94 134.17 328.97 134.27 328 C134.37 327.03 134.36 326.06 134.3 325.08 C134.25 324.11 133.99 323.14 133.93 322.17 C133.88 321.19 133.89 320.22 133.96 319.25 C134.04 318.28 134.42 317.31 134.39 316.33 C134.36 315.36 133.84 314.56 133.77 313.42 C133.71 312.28 133.56 310.15 134 309.5Z" fill="rgb(139,139,139)"/>
<ellipse cx="135.4" cy="317" rx="1.6" ry="5.5" fill="rgb(153,153,153)"/>
<ellipse cx="135.5" cy="318" rx="0.9" ry="1.9" fill="rgb(178,178,178)"/>
<ellipse cx="136.5" cy="311" rx="1.3" ry="1.6" fill="rgb(224,224,224)"/>
<path d="M185.4 309.5 C186.36 308.86 190.37 308.86 191.4 309.5 C192.43 310.14 191.72 312.22 191.59 313.33 C191.46 314.44 190.73 315.22 190.62 316.17 C190.52 317.11 190.91 318.06 190.94 319 C190.97 319.94 190.88 320.89 190.78 321.83 C190.68 322.78 190.47 323.72 190.34 324.67 C190.22 325.61 189.99 326.56 190.03 327.5 C190.07 328.44 190.67 329.39 190.57 330.33 C190.46 331.28 189.52 332.22 189.39 333.17 C189.27 334.11 189.77 335.06 189.82 336 C189.86 336.94 189.79 337.89 189.67 338.83 C189.55 339.78 189.17 340.72 189.08 341.67 C188.98 342.61 189.4 343.63 189.1 344.5 C188.8 345.37 187.9 346.9 187.3 346.9 C186.7 346.9 185.86 345.37 185.5 344.5 C185.14 343.63 185.04 342.61 185.11 341.67 C185.18 340.72 185.88 339.78 185.92 338.83 C185.95 337.89 185.4 336.94 185.3 336 C185.21 335.06 185.31 334.11 185.35 333.17 C185.4 332.22 185.53 331.28 185.57 330.33 C185.62 329.39 185.73 328.44 185.63 327.5 C185.53 326.56 184.91 325.61 184.96 324.67 C185.01 323.72 185.87 322.78 185.92 321.83 C185.97 320.89 185.37 319.94 185.26 319 C185.14 318.06 185.17 317.11 185.23 316.17 C185.3 315.22 185.64 314.44 185.67 313.33 C185.69 312.22 184.44 310.14 185.4 309.5Z" fill="rgb(43,43,43)"/>
<path d="M185.9 309.5 C186.69 308.86 190.04 308.86 190.9 309.5 C191.76 310.14 191.22 312.22 191.09 313.33 C190.96 314.44 190.23 315.22 190.12 316.17 C190.02 317.11 190.41 318.06 190.44 319 C190.47 319.94 190.38 320.89 190.28 321.83 C190.18 322.78 189.97 323.72 189.84 324.67 C189.72 325.61 189.49 326.56 189.53 327.5 C189.57 328.44 190.17 329.39 190.07 330.33 C189.96 331.28 189.02 332.22 188.89 333.17 C188.77 334.11 189.27 335.06 189.32 336 C189.36 336.94 189.29 337.89 189.17 338.83 C189.05 339.78 188.67 340.72 188.58 341.67 C188.48 342.61 188.81 343.75 188.6 344.5 C188.39 345.25 187.73 346.15 187.3 346.15 C186.87 346.15 186.28 345.25 186 344.5 C185.72 343.75 185.54 342.61 185.61 341.67 C185.68 340.72 186.38 339.78 186.42 338.83 C186.45 337.89 185.9 336.94 185.8 336 C185.71 335.06 185.81 334.11 185.85 333.17 C185.9 332.22 186.03 331.28 186.07 330.33 C186.12 329.39 186.23 328.44 186.13 327.5 C186.03 326.56 185.41 325.61 185.46 324.67 C185.51 323.72 186.37 322.78 186.42 321.83 C186.47 320.89 185.87 319.94 185.76 319 C185.64 318.06 185.67 317.11 185.73 316.17 C185.8 315.22 186.14 314.44 186.17 313.33 C186.19 312.22 185.11 310.14 185.9 309.5Z" fill="rgb(94,94,94)"/>
<path d="M186.4 309.5 C187.02 308.86 189.7 308.86 190.4 309.5 C191.1 310.14 190.72 312.22 190.59 313.33 C190.46 314.44 189.73 315.22 189.62 316.17 C189.52 317.11 189.91 318.06 189.94 319 C189.97 319.94 189.88 320.89 189.78 321.83 C189.68 322.78 189.47 323.72 189.34 324.67 C189.22 325.61 188.99 326.56 189.03 327.5 C189.07 328.44 189.67 329.39 189.57 330.33 C189.46 331.28 188.52 332.22 188.39 333.17 C188.27 334.11 188.77 335.06 188.82 336 C188.86 336.94 188.79 337.89 188.67 338.83 C188.55 339.78 188.17 340.72 188.08 341.67 C187.98 342.61 188.23 343.88 188.1 344.5 C187.97 345.12 187.57 345.4 187.3 345.4 C187.03 345.4 186.7 345.12 186.5 344.5 C186.3 343.88 186.04 342.61 186.11 341.67 C186.18 340.72 186.88 339.78 186.92 338.83 C186.95 337.89 186.4 336.94 186.3 336 C186.21 335.06 186.31 334.11 186.35 333.17 C186.4 332.22 186.53 331.28 186.57 330.33 C186.62 329.39 186.73 328.44 186.63 327.5 C186.53 326.56 185.91 325.61 185.96 324.67 C186.01 323.72 186.87 322.78 186.92 321.83 C186.97 320.89 186.37 319.94 186.26 319 C186.14 318.06 186.17 317.11 186.23 316.17 C186.3 315.22 186.64 314.44 186.67 313.33 C186.69 312.22 185.78 310.14 186.4 309.5Z" fill="rgb(125,125,125)"/>
<path d="M187.3 309.5 C187.62 308.86 189.1 308.86 189.5 309.5 C189.9 310.14 189.82 312.22 189.69 313.33 C189.56 314.44 188.83 315.22 188.72 316.17 C188.62 317.11 189.01 318.06 189.04 319 C189.07 319.94 188.98 320.89 188.88 321.83 C188.78 322.78 188.57 323.72 188.44 324.67 C188.32 325.61 188.09 326.56 188.13 327.5 C188.17 328.44 188.75 329.39 188.67 330.33 C188.58 331.28 187.75 332.22 187.62 333.17 C187.5 334.11 187.85 335.06 187.92 336 C187.99 336.94 188.14 337.89 188.04 338.83 C187.95 339.78 187.43 340.72 187.34 341.67 C187.26 342.61 187.56 344.1 187.55 344.5 C187.54 344.9 187.38 344.05 187.3 344.05 C187.22 344.05 187.13 344.9 187.05 344.5 C186.97 344.1 186.76 342.61 186.84 341.67 C186.93 340.72 187.48 339.78 187.54 338.83 C187.6 337.89 187.27 336.94 187.2 336 C187.13 335.06 187.08 334.11 187.12 333.17 C187.17 332.22 187.41 331.28 187.47 330.33 C187.54 329.39 187.63 328.44 187.53 327.5 C187.43 326.56 186.81 325.61 186.86 324.67 C186.91 323.72 187.77 322.78 187.82 321.83 C187.87 320.89 187.27 319.94 187.16 319 C187.04 318.06 187.07 317.11 187.13 316.17 C187.2 315.22 187.54 314.44 187.57 313.33 C187.59 312.22 186.98 310.14 187.3 309.5Z" fill="rgb(139,139,139)"/>
<ellipse cx="188.5" cy="319" rx="1.5" ry="6.5" fill="rgb(153,153,153)"/>
<ellipse cx="188.6" cy="320.5" rx="0.9" ry="2.2" fill="rgb(178,178,178)"/>
<path d="M238.3 309.5 C239.36 308.83 243.2 308.83 244.1 309.5 C245 310.17 243.8 312.36 243.71 313.54 C243.63 314.72 243.57 315.57 243.6 316.58 C243.62 317.6 244.02 318.61 243.87 319.62 C243.72 320.64 242.78 321.65 242.69 322.67 C242.6 323.68 243.3 324.69 243.32 325.71 C243.35 326.72 243.02 327.74 242.86 328.75 C242.7 329.76 242.43 330.78 242.36 331.79 C242.28 332.81 242.41 333.82 242.42 334.83 C242.43 335.85 242.53 336.86 242.39 337.88 C242.26 338.89 241.7 339.9 241.6 340.92 C241.5 341.93 241.81 342.94 241.79 343.96 C241.77 344.97 241.83 346.09 241.5 347 C241.17 347.91 240.37 349.4 239.8 349.4 C239.23 349.4 238.35 347.91 238.1 347 C237.85 346.09 238.37 344.97 238.32 343.96 C238.26 342.94 237.77 341.93 237.77 340.92 C237.77 339.9 238.23 338.89 238.33 337.88 C238.43 336.86 238.48 335.85 238.38 334.83 C238.28 333.82 237.68 332.81 237.72 331.79 C237.75 330.78 238.5 329.76 238.57 328.75 C238.65 327.74 238.24 326.72 238.16 325.71 C238.08 324.69 238.07 323.68 238.08 322.67 C238.1 321.65 238.19 320.64 238.27 319.62 C238.35 318.61 238.67 317.6 238.58 316.58 C238.5 315.57 237.81 314.72 237.77 313.54 C237.72 312.36 237.24 310.17 238.3 309.5Z" fill="rgb(43,43,43)"/>
<path d="M238.8 309.5 C239.69 308.83 242.86 308.83 243.6 309.5 C244.34 310.17 243.3 312.36 243.21 313.54 C243.13 314.72 243.07 315.57 243.1 316.58 C243.12 317.6 243.52 318.61 243.37 319.62 C243.22 320.64 242.28 321.65 242.19 322.67 C242.1 323.68 242.8 324.69 242.82 325.71 C242.85 326.72 242.52 327.74 242.36 328.75 C242.2 329.76 241.93 330.78 241.86 331.79 C241.78 332.81 241.91 333.82 241.92 334.83 C241.93 335.85 242.03 336.86 241.89 337.88 C241.76 338.89 241.2 339.9 241.1 340.92 C241 341.93 241.31 342.94 241.29 343.96 C241.27 344.97 241.25 346.22 241 347 C240.75 347.78 240.2 348.65 239.8 348.65 C239.4 348.65 238.76 347.78 238.6 347 C238.44 346.22 238.87 344.97 238.82 343.96 C238.76 342.94 238.27 341.93 238.27 340.92 C238.27 339.9 238.73 338.89 238.83 337.88 C238.93 336.86 238.98 335.85 238.88 334.83 C238.78 333.82 238.18 332.81 238.22 331.79 C238.25 330.78 239 329.76 239.07 328.75 C239.15 327.74 238.74 326.72 238.66 325.71 C238.58 324.69 238.57 323.68 238.58 322.67 C238.6 321.65 238.69 320.64 238.77 319.62 C238.85 318.61 239.17 317.6 239.08 316.58 C239 315.57 238.31 314.72 238.27 313.54 C238.22 312.36 237.91 310.17 238.8 309.5Z" fill="rgb(94,94,94)"/>
<path d="M239.4 309.5 C240.09 308.83 242.46 308.83 243 309.5 C243.54 310.17 242.7 312.36 242.61 313.54 C242.53 314.72 242.47 315.57 242.5 316.58 C242.52 317.6 242.92 318.61 242.77 319.62 C242.62 320.64 241.68 321.65 241.59 322.67 C241.5 323.68 242.2 324.69 242.22 325.71 C242.25 326.72 241.92 327.74 241.76 328.75 C241.6 329.76 241.33 330.78 241.26 331.79 C241.18 332.81 241.31 333.82 241.32 334.83 C241.33 335.85 241.43 336.86 241.29 337.88 C241.16 338.89 240.6 339.9 240.5 340.92 C240.4 341.93 240.71 342.94 240.69 343.96 C240.67 344.97 240.55 346.37 240.4 347 C240.25 347.63 240 347.75 239.8 347.75 C239.6 347.75 239.26 347.63 239.2 347 C239.14 346.37 239.47 344.97 239.42 343.96 C239.36 342.94 238.87 341.93 238.87 340.92 C238.87 339.9 239.33 338.89 239.43 337.88 C239.53 336.86 239.58 335.85 239.48 334.83 C239.38 333.82 238.78 332.81 238.82 331.79 C238.85 330.78 239.6 329.76 239.67 328.75 C239.75 327.74 239.34 326.72 239.26 325.71 C239.18 324.69 239.17 323.68 239.18 322.67 C239.2 321.65 239.29 320.64 239.37 319.62 C239.45 318.61 239.77 317.6 239.68 316.58 C239.6 315.57 238.91 314.72 238.87 313.54 C238.82 312.36 238.71 310.17 239.4 309.5Z" fill="rgb(125,125,125)"/>
<ellipse cx="241.4" cy="316.5" rx="1.4" ry="5" fill="rgb(150,150,150)"/>
<ellipse cx="241.6" cy="317.5" rx="0.8" ry="1.6" fill="rgb(173,173,173)"/>
<path d="M291.9 309.5 C292.85 308.91 296.69 308.91 297.7 309.5 C298.71 310.09 298.12 312.03 297.96 313.04 C297.81 314.06 296.94 314.74 296.77 315.58 C296.59 316.43 296.91 317.28 296.91 318.12 C296.91 318.97 296.87 319.82 296.76 320.67 C296.66 321.51 296.47 322.36 296.3 323.21 C296.13 324.06 295.77 324.9 295.76 325.75 C295.75 326.6 296.3 327.44 296.21 328.29 C296.13 329.14 295.45 329.99 295.26 330.83 C295.07 331.68 295.05 332.53 295.07 333.38 C295.08 334.22 295.46 335.07 295.35 335.92 C295.24 336.76 294.54 337.61 294.38 338.46 C294.22 339.31 294.68 340.18 294.4 341 C294.12 341.82 293.27 343.4 292.7 343.4 C292.13 343.4 291.29 341.82 291 341 C290.71 340.18 290.9 339.31 290.97 338.46 C291.05 337.61 291.43 336.76 291.45 335.92 C291.46 335.07 291.12 334.22 291.07 333.38 C291.02 332.53 291.06 331.68 291.15 330.83 C291.25 329.99 291.59 329.14 291.63 328.29 C291.68 327.44 291.5 326.6 291.42 325.75 C291.34 324.9 291.06 324.06 291.17 323.21 C291.29 322.36 292.11 321.51 292.14 320.67 C292.16 319.82 291.37 318.97 291.31 318.12 C291.25 317.28 291.65 316.43 291.77 315.58 C291.88 314.74 291.96 314.06 291.99 313.04 C292.01 312.03 290.95 310.09 291.9 309.5Z" fill="rgb(43,43,43)"/>
<path d="M292.4 309.5 C293.19 308.91 296.36 308.91 297.2 309.5 C298.04 310.09 297.62 312.03 297.46 313.04 C297.31 314.06 296.44 314.74 296.27 315.58 C296.09 316.43 296.41 317.28 296.41 318.12 C296.41 318.97 296.37 319.82 296.26 320.67 C296.16 321.51 295.97 322.36 295.8 323.21 C295.63 324.06 295.27 324.9 295.26 325.75 C295.25 326.6 295.8 327.44 295.71 328.29 C295.63 329.14 294.95 329.99 294.76 330.83 C294.57 331.68 294.55 332.53 294.57 333.38 C294.58 334.22 294.96 335.07 294.85 335.92 C294.74 336.76 294.04 337.61 293.88 338.46 C293.72 339.31 294.1 340.3 293.9 341 C293.7 341.7 293.1 342.65 292.7 342.65 C292.3 342.65 291.7 341.7 291.5 341 C291.3 340.3 291.4 339.31 291.47 338.46 C291.55 337.61 291.93 336.76 291.95 335.92 C291.96 335.07 291.62 334.22 291.57 333.38 C291.52 332.53 291.56 331.68 291.65 330.83 C291.75 329.99 292.09 329.14 292.13 328.29 C292.18 327.44 292 326.6 291.92 325.75 C291.84 324.9 291.56 324.06 291.67 323.21 C291.79 322.36 292.61 321.51 292.64 320.67 C292.66 319.82 291.87 318.97 291.81 318.12 C291.75 317.28 292.15 316.43 292.27 315.58 C292.38 314.74 292.46 314.06 292.49 313.04 C292.51 312.03 291.61 310.09 292.4 309.5Z" fill="rgb(94,94,94)"/>
<path d="M292.9 309.5 C293.52 308.91 296.02 308.91 296.7 309.5 C297.38 310.09 297.12 312.03 296.96 313.04 C296.81 314.06 295.94 314.74 295.77 315.58 C295.59 316.43 295.91 317.28 295.91 318.12 C295.91 318.97 295.87 319.82 295.76 320.67 C295.66 321.51 295.47 322.36 295.3 323.21 C295.13 324.06 294.77 324.9 294.76 325.75 C294.75 326.6 295.3 327.44 295.21 328.29 C295.13 329.14 294.45 329.99 294.26 330.83 C294.07 331.68 294.05 332.53 294.07 333.38 C294.08 334.22 294.46 335.07 294.35 335.92 C294.24 336.76 293.54 337.61 293.38 338.46 C293.22 339.31 293.51 340.43 293.4 341 C293.29 341.57 292.93 341.9 292.7 341.9 C292.47 341.9 292.12 341.57 292 341 C291.88 340.43 291.9 339.31 291.97 338.46 C292.05 337.61 292.43 336.76 292.45 335.92 C292.46 335.07 292.12 334.22 292.07 333.38 C292.02 332.53 292.06 331.68 292.15 330.83 C292.25 329.99 292.59 329.14 292.63 328.29 C292.68 327.44 292.5 326.6 292.42 325.75 C292.34 324.9 292.06 324.06 292.17 323.21 C292.29 322.36 293.11 321.51 293.14 320.67 C293.16 319.82 292.37 318.97 292.31 318.12 C292.25 317.28 292.65 316.43 292.77 315.58 C292.88 314.74 292.96 314.06 292.99 313.04 C293.01 312.03 292.28 310.09 292.9 309.5Z" fill="rgb(125,125,125)"/>
<path d="M293.8 309.5 C294.12 308.91 295.42 308.91 295.8 309.5 C296.18 310.09 296.22 312.03 296.06 313.04 C295.91 314.06 295.04 314.74 294.87 315.58 C294.69 316.43 295.01 317.28 295.01 318.12 C295.01 318.97 294.97 319.82 294.86 320.67 C294.76 321.51 294.57 322.36 294.4 323.21 C294.23 324.06 293.87 324.9 293.86 325.75 C293.85 326.6 294.38 327.44 294.31 328.29 C294.25 329.14 293.62 329.99 293.46 330.83 C293.29 331.68 293.29 332.53 293.32 333.38 C293.35 334.22 293.71 335.07 293.65 335.92 C293.58 336.76 293.04 337.61 292.93 338.46 C292.81 339.31 292.99 340.65 292.95 341 C292.91 341.35 292.78 340.55 292.7 340.55 C292.62 340.55 292.5 341.35 292.45 341 C292.4 340.65 292.31 339.31 292.43 338.46 C292.54 337.61 293.08 336.76 293.15 335.92 C293.21 335.07 292.85 334.22 292.82 333.38 C292.79 332.53 292.84 331.68 292.96 330.83 C293.08 329.99 293.47 329.14 293.53 328.29 C293.6 327.44 293.4 326.6 293.32 325.75 C293.24 324.9 292.96 324.06 293.07 323.21 C293.19 322.36 294.01 321.51 294.04 320.67 C294.06 319.82 293.27 318.97 293.21 318.12 C293.15 317.28 293.55 316.43 293.67 315.58 C293.78 314.74 293.86 314.06 293.89 313.04 C293.91 312.03 293.48 310.09 293.8 309.5Z" fill="rgb(139,139,139)"/>
<ellipse cx="294.5" cy="320" rx="1.5" ry="7.5" fill="rgb(153,153,153)"/>
<ellipse cx="294.8" cy="316.5" rx="0.9" ry="2.4" fill="rgb(176,176,176)"/>
</g>
<g filter="url(#cm2)"><rect x="0" y="240" width="350" height="71.6" fill="#000"/>
<defs><linearGradient id="tLR" x1="0" y1="0" x2="1" y2="0"><stop offset="0" stop-color="rgb(111,111,111)"/><stop offset="1" stop-color="rgb(124,124,124)"/></linearGradient><linearGradient id="tRL" x1="1" y1="0" x2="0" y2="0"><stop offset="0" stop-color="rgb(111,111,111)"/><stop offset="1" stop-color="rgb(124,124,124)"/></linearGradient><linearGradient id="tTB" x1="0" y1="0" x2="0" y2="1"><stop offset="0" stop-color="rgb(111,111,111)"/><stop offset="1" stop-color="rgb(124,124,124)"/></linearGradient><linearGradient id="tBT" x1="0" y1="1" x2="0" y2="0"><stop offset="0" stop-color="rgb(111,111,111)"/><stop offset="1" stop-color="rgb(124,124,124)"/></linearGradient></defs>
<rect x="64" y="274" width="278" height="37" fill="rgb(94,94,94)"/>
<path d="M41.5 290 C41.25 286.83 41.83 284.2 43 282 C44.17 279.8 46.33 277.87 48.5 276.8 C50.67 275.73 53.75 275.85 56 275.6 C58.25 275.35 60 275.35 62 275.3 C64 275.25 65.5 273.85 68 275.3 C70.5 276.75 74.67 281.8 77 284 C79.33 286.2 81.25 287.17 82 288.5 C82.75 289.83 81.2 290.75 81.5 292 C81.8 293.25 83.33 293.9 83.8 296 C84.27 298.1 84.17 302.1 84.3 304.6 C84.43 307.1 86.98 309.85 84.6 311 C82.22 312.15 74.27 311.5 70 311.5 C65.73 311.5 62.25 311.67 59 311 C55.75 310.33 52.92 309.17 50.5 307.5 C48.08 305.83 46 303.92 44.5 301 C43 298.08 41.75 293.17 41.5 290Z" fill="rgb(20,20,20)"/>
<path d="M44.5 290 C44.25 287.52 45 286.3 46 284.5 C47 282.7 48.83 280.35 50.5 279.2 C52.17 278.05 54.18 277.95 56 277.6 C57.82 277.25 59.4 277.2 61.4 277.1 C63.4 277 65.33 275.7 68 277 C70.67 278.3 74.97 283.02 77.4 284.9 C79.83 286.78 81.88 287.17 82.6 288.3 C83.32 289.43 81.42 290.42 81.7 291.7 C81.98 292.98 83.8 293.85 84.3 296 C84.8 298.15 84.57 302.1 84.7 304.6 C84.83 307.1 87.55 309.93 85.1 311 C82.65 312.07 73.85 311.23 70 311 C66.15 310.77 64.75 310.52 62 309.6 C59.25 308.68 55.92 307.2 53.5 305.5 C51.08 303.8 49 301.98 47.5 299.4 C46 296.82 44.75 292.48 44.5 290Z" fill="rgb(37,37,37)"/>
<path d="M60 279 C61 277.53 65.33 277.2 68 278.2 C70.67 279.2 74 283.2 76 285 C78 286.8 79.5 287.67 80 289 C80.5 290.33 80.67 292.5 79 293 C77.33 293.5 72.83 293 70 292 C67.17 291 63.67 289.17 62 287 C60.33 284.83 59 280.47 60 279Z" fill="rgb(47,47,47)"/>
<path d="M54.1 300.4 C54.35 299.27 56 297.97 57.5 297.2 C59 296.43 60.92 295.72 63.1 295.8 C65.28 295.88 68.93 296.67 70.6 297.7 C72.27 298.73 72.82 300.28 73.1 302 C73.38 303.72 73.48 306.95 72.3 308 C71.12 309.05 68.05 308.47 66 308.3 C63.95 308.13 61.67 307.72 60 307 C58.33 306.28 56.98 305.1 56 304 C55.02 302.9 53.85 301.53 54.1 300.4Z" fill="rgb(94,94,94)"/>
<ellipse cx="78.3" cy="305.6" rx="4.6" ry="6.6" fill="rgb(0,0,0)" transform="rotate(-22 78.3 305.6)"/>
<path d="M187 274 C212.5 273.53 315.33 273.45 341 274 C366.67 274.55 344.5 276.7 341 277.3 C337.5 277.9 326.83 277.52 320 277.6 C313.17 277.68 306.67 277.83 300 277.8 C293.33 277.77 286.67 277.4 280 277.4 C273.33 277.4 266.67 277.83 260 277.8 C253.33 277.77 247.5 277.27 240 277.2 C232.5 277.13 223.67 277.47 215 277.4 C206.33 277.33 192.67 277.37 188 276.8 C183.33 276.23 161.5 274.47 187 274Z" fill="rgb(8,8,8)"/>
<ellipse cx="195" cy="275.3" rx="3.5" ry="1.2" fill="rgb(0,0,0)"/>
<ellipse cx="253" cy="275.3" rx="8" ry="1.3" fill="rgb(5,5,5)"/>
<ellipse cx="320" cy="275.5" rx="8" ry="1.3" fill="rgb(8,8,8)"/>
<path d="M85.7 277.8 C87.7 277.32 93.95 277.47 98 277.3 C102.05 277.13 106.08 277.08 110 276.8 C113.92 276.52 118.42 274.15 121.5 275.6 C124.58 277.05 126.42 281.93 128.5 285.5 C130.58 289.07 132.5 293.42 134 297 C135.5 300.58 136.83 304.67 137.5 307 C138.17 309.33 142.58 310.33 138 311 C133.42 311.67 117.17 311.17 110 311 C102.83 310.83 98.62 310.58 95 310 C91.38 309.42 88.28 308.9 88.3 307.5 C88.32 306.1 92.75 303.92 95.1 301.6 C97.45 299.28 101.25 295.68 102.4 293.6 C103.55 291.52 102.92 291.1 102 289.1 C101.08 287.1 99.57 283.08 96.9 281.6 C94.23 280.12 87.87 280.83 86 280.2 C84.13 279.57 83.7 278.28 85.7 277.8Z" fill="url(#tLR)"/>
<path d="M117 276.6 C117.92 276.03 119.58 274.12 121.5 275.6 C123.42 277.08 126.42 281.93 128.5 285.5 C130.58 289.07 132.5 293.42 134 297 C135.5 300.58 136.83 304.67 137.5 307 C138.17 309.33 138.58 310.33 138 311 C137.42 311.67 135.08 313 134 311 C132.92 309 132.75 302.83 131.5 299 C130.25 295.17 128.5 291 126.5 288 C124.5 285 121.25 282.5 119.5 281 C117.75 279.5 116.42 279.73 116 279 C115.58 278.27 116.08 277.17 117 276.6Z" fill="rgb(130,130,130)"/>
<ellipse cx="107.6" cy="279.7" rx="9.3" ry="2.2" fill="rgb(142,142,142)" stroke="rgb(130,130,130)" stroke-width="1.3"/>
<path d="M116 283.5 C116.92 282.08 118.25 281.42 119.5 281.5 C120.75 281.58 122.17 282.58 123.5 284 C124.83 285.42 126.25 287.67 127.5 290 C128.75 292.33 130 295.5 131 298 C132 300.5 132.83 302.83 133.5 305 C134.17 307.17 141.08 310 135 311 C128.92 312 103.17 311.58 97 311 C90.83 310.42 97 308.5 98 307.5 C99 306.5 101.25 305.83 103 305 C104.75 304.17 106.92 303.67 108.5 302.5 C110.08 301.33 111.58 300.08 112.5 298 C113.42 295.92 113.42 292.42 114 290 C114.58 287.58 115.08 284.92 116 283.5Z" fill="rgb(140,140,140)" stroke="rgb(130,130,130)" stroke-width="1.3" stroke-linejoin="round"/>
<path d="M103 307.2 C104.17 306.33 107.67 306.37 110 305.8 C112.33 305.23 115.25 304.77 117 303.8 C118.75 302.83 119.53 301.22 120.5 300 C121.47 298.78 121.72 297.12 122.8 296.5 C123.88 295.88 125.72 295.72 127 296.3 C128.28 296.88 129.42 298.47 130.5 300 C131.58 301.53 132.75 303.67 133.5 305.5 C134.25 307.33 140.08 310.08 135 311 C129.92 311.92 108.33 311.63 103 311 C97.67 310.37 101.83 308.07 103 307.2Z" fill="rgb(172,172,172)"/>
<ellipse cx="131.4" cy="306.8" rx="6.6" ry="2.3" fill="rgb(198,198,198)" transform="rotate(28 131.4 306.8)"/>
<ellipse cx="136.2" cy="309.6" rx="1.9" ry="1.5" fill="rgb(224,224,224)"/>
<path d="M124.5 275 C126.45 273.3 139.25 274.53 142.5 275 C145.75 275.47 142.22 276.62 144 277.8 C145.78 278.98 151.45 280.33 153.2 282.1 C154.95 283.87 155.23 286 154.5 288.4 C153.77 290.8 150.58 294.1 148.8 296.5 C147.02 298.9 144.95 300.92 143.8 302.8 C142.65 304.68 142.4 306.43 141.9 307.8 C141.4 309.17 141.18 311.13 140.8 311 C140.42 310.87 140.33 309.33 139.6 307 C138.87 304.67 137.87 300.63 136.4 297 C134.93 293.37 132.78 288.87 130.8 285.2 C128.82 281.53 122.55 276.7 124.5 275Z" fill="rgb(48,48,48)"/>
<path d="M127 274.5 C130 274.12 143 274.12 146 274.5 C149 274.88 148 276.42 145 276.8 C142 277.18 131 277.18 128 276.8 C125 276.42 124 274.88 127 274.5Z" fill="rgb(15,15,15)"/>
<path d="M143 307.5 C143.58 306.8 145 306.72 146 306.8 C147 306.88 148.42 307.3 149 308 C149.58 308.7 150.58 310.5 149.5 311 C148.42 311.5 143.58 311.58 142.5 311 C141.42 310.42 142.42 308.2 143 307.5Z" fill="rgb(18,18,18)"/>
<path d="M158 278.6 C158.67 278.17 162.33 277.52 166 277.3 C169.67 277.08 175.33 277.25 180 277.3 C184.67 277.35 191.67 274.23 194 277.6 C196.33 280.97 195.05 294.33 194 297.5 C192.95 300.67 189.32 297.13 187.7 296.6 C186.08 296.07 185.58 295.55 184.3 294.3 C183.02 293.05 181 290.67 180 289.1 C179 287.53 179.45 286.03 178.3 284.9 C177.15 283.77 175.82 283.13 173.1 282.3 C170.38 281.47 164.52 280.52 162 279.9 C159.48 279.28 157.33 279.03 158 278.6Z" fill="url(#tBT)"/>
<path d="M146 311 C139.17 310.13 149 307.63 151 305.8 C153 303.97 155.5 301.57 158 300 C160.5 298.43 163.67 297.33 166 296.4 C168.33 295.47 169.67 294.57 172 294.4 C174.33 294.23 177.67 294.88 180 295.4 C182.33 295.92 184.17 296.73 186 297.5 C187.83 298.27 190 297.75 191 300 C192 302.25 199.5 309.17 192 311 C184.5 312.83 152.83 311.87 146 311Z" fill="url(#tTB)"/>
<path d="M162 311 C157.83 310.17 163.67 307.5 165 306 C166.33 304.5 168 302.97 170 302 C172 301.03 174.67 300.2 177 300.2 C179.33 300.2 182.08 301.03 184 302 C185.92 302.97 187.5 304.5 188.5 306 C189.5 307.5 194.42 310.17 190 311 C185.58 311.83 166.17 311.83 162 311Z" fill="rgb(140,140,140)" stroke="rgb(130,130,130)" stroke-width="0.5" stroke-linejoin="round"/>
<ellipse cx="178" cy="306.6" rx="7" ry="3.2" fill="rgb(173,173,173)"/>
<path d="M188 277.5 C188.5 272.25 189.43 277.57 191 279.5 C192.57 281.43 195.05 285.92 197.4 289.1 C199.75 292.28 203.1 296.17 205.1 298.6 C207.1 301.03 207.68 302.42 209.4 303.7 C211.12 304.98 214.63 305.08 215.4 306.3 C216.17 307.52 218.57 310.22 214 311 C209.43 311.78 192.33 316.58 188 311 C183.67 305.42 187.5 282.75 188 277.5Z" fill="rgb(116,116,116)"/>
<ellipse cx="202.4" cy="285.6" rx="4.8" ry="2.7" fill="rgb(48,48,48)" transform="rotate(25 202.4 285.6)"/>
<path d="M209.4 278.9 C209.4 278.53 208.9 277.87 214 277.8 C219.1 277.73 235.83 277.8 240 278.5 C244.17 279.2 239.25 280.08 239 282 C238.75 283.92 238.33 287.33 238.5 290 C238.67 292.67 238.75 296 240 298 C241.25 300 245 299.83 246 302 C247 304.17 251.67 309.5 246 311 C240.33 312.5 217.33 312.92 212 311 C206.67 309.08 212.23 302.57 214 299.5 C215.77 296.43 220.32 294.62 222.6 292.6 C224.88 290.58 226.98 289.12 227.7 287.4 C228.42 285.68 229.18 283.53 226.9 282.3 C224.62 281.07 216.92 280.57 214 280 C211.08 279.43 209.4 279.27 209.4 278.9Z" fill="url(#tBT)"/>
<path d="M190 311 C187.5 309.75 190.75 305.83 191.5 303.5 C192.25 301.17 193.58 298.17 194.5 297 C195.42 295.83 196 296 197 296.5 C198 297 199.33 298.58 200.5 300 C201.67 301.42 203 303.17 204 305 C205 306.83 208.83 310 206.5 311 C204.17 312 192.5 312.25 190 311Z" fill="rgb(140,140,140)" stroke="rgb(130,130,130)" stroke-width="0.5" stroke-linejoin="round"/>
<ellipse cx="198.2" cy="307.2" rx="6.6" ry="3.3" fill="rgb(172,172,172)"/>
<ellipse cx="198.4" cy="307.9" rx="4.6" ry="2" fill="rgb(196,196,196)"/>
<path d="M213 311 C208.58 310.33 214.67 308.42 216 307 C217.33 305.58 219 303.75 221 302.5 C223 301.25 225.67 299.83 228 299.5 C230.33 299.17 233 299.75 235 300.5 C237 301.25 238.75 302.25 240 304 C241.25 305.75 247 309.83 242.5 311 C238 312.17 217.42 311.67 213 311Z" fill="rgb(140,140,140)" stroke="rgb(130,130,130)" stroke-width="0.5" stroke-linejoin="round"/>
<ellipse cx="233.5" cy="306.6" rx="8" ry="3.6" fill="rgb(172,172,172)"/>
<ellipse cx="234.5" cy="307.2" rx="4.2" ry="2.1" fill="rgb(199,199,199)"/>
<path d="M240 278.8 C240.58 274.13 242.42 281.13 243.5 283 C244.58 284.87 245.33 287.83 246.5 290 C247.67 292.17 249.33 294.17 250.5 296 C251.67 297.83 252.58 298.5 253.5 301 C254.42 303.5 258.25 309.33 256 311 C253.75 312.67 242.67 316.37 240 311 C237.33 305.63 239.42 283.47 240 278.8Z" fill="rgb(116,116,116)"/>
<path d="M246.5 276.8 C247.5 275.47 254.75 276.47 257 277 C259.25 277.53 258.5 279 260 280 C261.5 281 263.5 282.5 266 283 C268.5 283.5 274 282.25 275 283 C276 283.75 273.07 286.05 272 287.5 C270.93 288.95 270.1 290.37 268.6 291.7 C267.1 293.03 264.72 294.07 263 295.5 C261.28 296.93 259.72 300.72 258.3 300.3 C256.88 299.88 255.72 295.55 254.5 293 C253.28 290.45 252.33 287.7 251 285 C249.67 282.3 245.5 278.13 246.5 276.8Z" fill="rgb(48,48,48)"/>
<path d="M249 279 C249.83 278.25 254.67 278.67 257 279.5 C259.33 280.33 262.33 282.08 263 284 C263.67 285.92 262 289.83 261 291 C260 292.17 258.5 292.17 257 291 C255.5 289.83 253.33 286 252 284 C250.67 282 248.17 279.75 249 279Z" fill="rgb(26,26,26)"/>
<path d="M243.5 311 C241.5 309.67 243.83 305.17 244.5 303 C245.17 300.83 246.5 298.87 247.5 298 C248.5 297.13 249.5 297.3 250.5 297.8 C251.5 298.3 252.67 299.63 253.5 301 C254.33 302.37 255 304.33 255.5 306 C256 307.67 258.5 310.17 256.5 311 C254.5 311.83 245.5 312.33 243.5 311Z" fill="rgb(140,140,140)" stroke="rgb(130,130,130)" stroke-width="0.5" stroke-linejoin="round"/>
<ellipse cx="249.5" cy="307.8" rx="6.3" ry="3" fill="rgb(173,173,173)"/>
<ellipse cx="249.5" cy="308.3" rx="4.6" ry="1.8" fill="rgb(199,199,199)"/>
<path d="M260 311 C254.58 309.58 261.08 304.75 262.5 302.5 C263.92 300.25 266.08 298.67 268.5 297.5 C270.92 296.33 274.25 295.75 277 295.5 C279.75 295.25 282.67 295.42 285 296 C287.33 296.58 289.42 297.67 291 299 C292.58 300.33 293.83 302 294.5 304 C295.17 306 300.75 309.83 295 311 C289.25 312.17 265.42 312.42 260 311Z" fill="url(#tTB)"/>
<path d="M272 311 C269.25 310.13 273 307.1 274 305.8 C275 304.5 276.67 303.75 278 303.2 C279.33 302.65 280.58 302.4 282 302.5 C283.42 302.6 285.25 303.05 286.5 303.8 C287.75 304.55 288.83 305.8 289.5 307 C290.17 308.2 293.42 310.33 290.5 311 C287.58 311.67 274.75 311.87 272 311Z" fill="rgb(147,147,147)" stroke="rgb(130,130,130)" stroke-width="0.5" stroke-linejoin="round"/>
<ellipse cx="285.2" cy="307.3" rx="1.4" ry="1" fill="rgb(194,194,194)"/>
<path d="M279 278.6 L290 278.2" fill="none" stroke="rgb(110,110,110)" stroke-width="1.4" stroke-linecap="round" stroke-linejoin="round"/>
<path d="M301 276.6 C301.67 276.93 303.17 279.27 304 280 C304.83 280.73 303 280.92 306 281 C309 281.08 318.92 280.25 322 280.5 C325.08 280.75 324.83 281.08 324.5 282.5 C324.17 283.92 321.57 286.85 320 289 C318.43 291.15 316.77 295.48 315.1 295.4 C313.43 295.32 311.6 290.65 310 288.5 C308.4 286.35 307.17 284.25 305.5 282.5 C303.83 280.75 300.75 278.98 300 278 C299.25 277.02 300.33 276.27 301 276.6Z" fill="rgb(48,48,48)"/>
<path d="M329 276.5 C329.83 275.88 334.42 275.88 336 276.3 C337.58 276.72 338.5 278.13 338.5 279 C338.5 279.87 337.25 281.33 336 281.5 C334.75 281.67 332.17 280.83 331 280 C329.83 279.17 328.17 277.12 329 276.5Z" fill="rgb(48,48,48)"/>
<path d="M295 311 C287.63 308.5 295.5 299.42 296 296 C296.5 292.58 297.17 291.58 298 290.5 C298.83 289.42 299.83 289.5 301 289.5 C302.17 289.5 303.67 289.75 305 290.5 C306.33 291.25 307.67 292.67 309 294 C310.33 295.33 311.5 297.17 313 298.5 C314.5 299.83 316 302.08 318 302 C320 301.92 323 299.17 325 298 C327 296.83 328.5 296.67 330 295 C331.5 293.33 332.83 289.67 334 288 C335.17 286.33 335.97 285.67 337 285 C338.03 284.33 339.67 279.67 340.2 284 C340.73 288.33 347.73 306.5 340.2 311 C332.67 315.5 302.37 313.5 295 311Z" fill="url(#tTB)"/>
<path d="M335.5 286.5 C335.97 283.42 338.63 281.92 339.3 284.5 C339.97 287.08 339.97 298.92 339.5 302 C339.03 305.08 337.17 305.58 336.5 303 C335.83 300.42 335.03 289.58 335.5 286.5Z" fill="rgb(131,131,131)"/>
<path d="M340.9 279 L340.9 310.5" fill="none" stroke="rgb(102,102,102)" stroke-width="1.3" stroke-linecap="round" stroke-linejoin="round"/>
<ellipse cx="339" cy="292.5" rx="0.8" ry="2" fill="rgb(143,143,143)"/>
<path d="M297.5 311 C294.5 310.08 298.58 307 299.5 305.5 C300.42 304 301.75 302.87 303 302 C304.25 301.13 305.67 300.38 307 300.3 C308.33 300.22 309.83 300.8 311 301.5 C312.17 302.2 313.08 303.42 314 304.5 C314.92 305.58 315.92 306.92 316.5 308 C317.08 309.08 320.67 310.5 317.5 311 C314.33 311.5 300.5 311.92 297.5 311Z" fill="rgb(140,140,140)" stroke="rgb(130,130,130)" stroke-width="0.5" stroke-linejoin="round"/>
<ellipse cx="306" cy="307.5" rx="7" ry="2.6" fill="rgb(173,173,173)"/>
<ellipse cx="305.5" cy="308" rx="5" ry="1.5" fill="rgb(195,195,195)"/>
<ellipse cx="310.2" cy="306.5" rx="1.4" ry="1.1" fill="rgb(171,171,171)"/>
<path d="M318 310 C318 309.32 318.33 306.47 320 305.5 C321.67 304.53 325.33 304.52 328 304.2 C330.67 303.88 334 303.63 336 303.6 C338 303.57 339.33 303.1 340 304 C340.67 304.9 343.33 308.07 340 309 C336.67 309.93 323.67 309.43 320 309.6 C316.33 309.77 318 310.68 318 310Z" fill="rgb(140,140,140)" stroke="rgb(130,130,130)" stroke-width="1" stroke-linejoin="round"/>
<rect x="296" y="309.5" width="45" height="1.5" fill="rgb(94,94,94)"/>
</g>
<g fill="#fff" stroke="none">
<rect x="28.50" y="80.60" width="48.35" height="9.20" rx="1.5"/>
<rect x="84.85" y="80.60" width="44.65" height="9.20" rx="1.5"/>
<rect x="137.50" y="80.60" width="44.85" height="9.20" rx="1.5"/>
<rect x="190.35" y="80.60" width="45.30" height="9.20" rx="1.5"/>
<rect x="243.65" y="80.60" width="44.70" height="9.20" rx="1.5"/>
<rect x="296.35" y="80.60" width="52.85" height="9.20" rx="1.5"/>
<rect x="28.50" y="35.50" width="320.70" height="8.70"/>
<rect x="341.70" y="44.20" width="7.50" height="36.40"/>
<rect x="28.50" y="310.60" width="48.35" height="9.20" rx="1.5"/>
<rect x="84.85" y="310.60" width="44.65" height="9.20" rx="1.5"/>
<rect x="137.50" y="310.60" width="44.85" height="9.20" rx="1.5"/>
<rect x="190.35" y="310.60" width="45.30" height="9.20" rx="1.5"/>
<rect x="243.65" y="310.60" width="44.70" height="9.20" rx="1.5"/>
<rect x="296.35" y="310.60" width="52.85" height="9.20" rx="1.5"/>
<rect x="28.50" y="265.50" width="320.70" height="8.70"/>
<rect x="341.70" y="274.20" width="7.50" height="36.40"/>
</g>
<g stroke="#454545" stroke-width="1.20" fill="none">
<rect x="28.50" y="35.50" width="320.70" height="200.10" fill="none"/>
<line x1="28.50" y1="44.20" x2="349.20" y2="44.20"/>
<line x1="341.70" y1="44.20" x2="341.70" y2="80.60"/>
<line x1="28.50" y1="227.00" x2="349.20" y2="227.00"/>
<line x1="28.50" y1="53.40" x2="34.00" y2="53.40"/>
<line x1="28.50" y1="99.00" x2="34.00" y2="99.00"/>
<line x1="28.50" y1="144.70" x2="34.00" y2="144.70"/>
<line x1="28.50" y1="190.40" x2="34.00" y2="190.40"/>
<line x1="42.40" y1="235.60" x2="42.40" y2="230.80"/>
<line x1="88.20" y1="235.60" x2="88.20" y2="230.80"/>
<line x1="133.90" y1="235.60" x2="133.90" y2="230.80"/>
<line x1="179.70" y1="235.60" x2="179.70" y2="230.80"/>
<line x1="225.40" y1="235.60" x2="225.40" y2="230.80"/>
<line x1="271.10" y1="235.60" x2="271.10" y2="230.80"/>
<line x1="316.70" y1="235.60" x2="316.70" y2="230.80"/>
<path d="M28.50 80.60 L74.05 80.60 Q76.85 80.60 76.85 83.40 L76.85 89.80 M84.85 89.80 L84.85 83.40 Q84.85 80.60 87.65 80.60 L126.70 80.60 Q129.50 80.60 129.50 83.40 L129.50 89.80 M137.50 89.80 L137.50 83.40 Q137.50 80.60 140.30 80.60 L179.55 80.60 Q182.35 80.60 182.35 83.40 L182.35 89.80 M190.35 89.80 L190.35 83.40 Q190.35 80.60 193.15 80.60 L232.85 80.60 Q235.65 80.60 235.65 83.40 L235.65 89.80 M243.65 89.80 L243.65 83.40 Q243.65 80.60 246.45 80.60 L285.55 80.60 Q288.35 80.60 288.35 83.40 L288.35 89.80 M296.35 89.80 L296.35 83.40 Q296.35 80.60 299.15 80.60 L349.20 80.60" fill="none"/>
<path d="M36.40 89.80 L36.40 86.30 Q36.40 85.30 37.60 85.30 L72.05 85.30 Q73.25 85.30 73.25 86.30 L74.95 89.80 M86.75 89.80 L88.45 86.30 Q88.45 85.30 89.65 85.30 L124.70 85.30 Q125.90 85.30 125.90 86.30 L127.60 89.80 M139.40 89.80 L141.10 86.30 Q141.10 85.30 142.30 85.30 L177.55 85.30 Q178.75 85.30 178.75 86.30 L180.45 89.80 M192.25 89.80 L193.95 86.30 Q193.95 85.30 195.15 85.30 L230.85 85.30 Q232.05 85.30 232.05 86.30 L233.75 89.80 M245.55 89.80 L247.25 86.30 Q247.25 85.30 248.45 85.30 L283.55 85.30 Q284.75 85.30 284.75 86.30 L286.45 89.80 M298.25 89.80 L299.95 86.30 Q299.95 85.30 301.15 85.30 L335.30 85.30 Q336.50 85.30 336.50 86.30 L336.50 89.80" fill="none"/>
<path d="M28.50 89.80 L76.85 89.80 M84.85 89.80 L129.50 89.80 M137.50 89.80 L182.35 89.80 M190.35 89.80 L235.65 89.80 M243.65 89.80 L288.35 89.80 M296.35 89.80 L349.20 89.80" fill="none"/>
<rect x="28.50" y="265.50" width="320.70" height="200.10" fill="none"/>
<line x1="28.50" y1="274.20" x2="349.20" y2="274.20"/>
<line x1="341.70" y1="274.20" x2="341.70" y2="310.60"/>
<line x1="28.50" y1="457.00" x2="349.20" y2="457.00"/>
<line x1="28.50" y1="283.40" x2="34.00" y2="283.40"/>
<line x1="28.50" y1="329.00" x2="34.00" y2="329.00"/>
<line x1="28.50" y1="374.70" x2="34.00" y2="374.70"/>
<line x1="28.50" y1="420.40" x2="34.00" y2="420.40"/>
<line x1="42.40" y1="465.60" x2="42.40" y2="460.80"/>
<line x1="88.20" y1="465.60" x2="88.20" y2="460.80"/>
<line x1="133.90" y1="465.60" x2="133.90" y2="460.80"/>
<line x1="179.70" y1="465.60" x2="179.70" y2="460.80"/>
<line x1="225.40" y1="465.60" x2="225.40" y2="460.80"/>
<line x1="271.10" y1="465.60" x2="271.10" y2="460.80"/>
<line x1="316.70" y1="465.60" x2="316.70" y2="460.80"/>
<path d="M28.50 310.60 L74.05 310.60 Q76.85 310.60 76.85 313.40 L76.85 319.80 M84.85 319.80 L84.85 313.40 Q84.85 310.60 87.65 310.60 L126.70 310.60 Q129.50 310.60 129.50 313.40 L129.50 319.80 M137.50 319.80 L137.50 313.40 Q137.50 310.60 140.30 310.60 L179.55 310.60 Q182.35 310.60 182.35 313.40 L182.35 319.80 M190.35 319.80 L190.35 313.40 Q190.35 310.60 193.15 310.60 L232.85 310.60 Q235.65 310.60 235.65 313.40 L235.65 319.80 M243.65 319.80 L243.65 313.40 Q243.65 310.60 246.45 310.60 L285.55 310.60 Q288.35 310.60 288.35 313.40 L288.35 319.80 M296.35 319.80 L296.35 313.40 Q296.35 310.60 299.15 310.60 L349.20 310.60" fill="none"/>
<path d="M36.40 319.80 L36.40 316.30 Q36.40 315.30 37.60 315.30 L72.05 315.30 Q73.25 315.30 73.25 316.30 L74.95 319.80 M86.75 319.80 L88.45 316.30 Q88.45 315.30 89.65 315.30 L124.70 315.30 Q125.90 315.30 125.90 316.30 L127.60 319.80 M139.40 319.80 L141.10 316.30 Q141.10 315.30 142.30 315.30 L177.55 315.30 Q178.75 315.30 178.75 316.30 L180.45 319.80 M192.25 319.80 L193.95 316.30 Q193.95 315.30 195.15 315.30 L230.85 315.30 Q232.05 315.30 232.05 316.30 L233.75 319.80 M245.55 319.80 L247.25 316.30 Q247.25 315.30 248.45 315.30 L283.55 315.30 Q284.75 315.30 284.75 316.30 L286.45 319.80 M298.25 319.80 L299.95 316.30 Q299.95 315.30 301.15 315.30 L335.30 315.30 Q336.50 315.30 336.50 316.30 L336.50 319.80" fill="none"/>
<path d="M28.50 319.80 L76.85 319.80 M84.85 319.80 L129.50 319.80 M137.50 319.80 L182.35 319.80 M190.35 319.80 L235.65 319.80 M243.65 319.80 L288.35 319.80 M296.35 319.80 L349.20 319.80" fill="none"/>
</g>
<g font-family="'Liberation Sans', Arial, sans-serif" fill="#000" stroke="#000" stroke-width="0.25">
<text><tspan x="74.60" y="27.20" font-size="19.50">S</tspan><tspan x="87.90" y="33.20" font-size="10.60">e</tspan><tspan x="99.00" y="27.20" font-size="19.50">-</tspan><tspan x="110.00" y="27.20" font-size="19.50">2</tspan><tspan x="125.50" y="27.20" font-size="19.50">x</tspan><tspan x="142.00" y="27.20" font-size="19.50">10</tspan><tspan x="163.40" y="17.60" font-size="10.80">21</tspan><tspan x="180.90" y="27.20" font-size="19.50">cm</tspan><tspan x="207.00" y="17.60" font-size="10.80">-3</tspan><tspan x="215.20" y="27.20" font-size="19.50">s</tspan><tspan x="226.00" y="17.60" font-size="10.80">-1</tspan><tspan x="241.20" y="27.20" font-size="19.50">(4-dec)</tspan></text>
<text><tspan x="74.60" y="257.60" font-size="19.50">S</tspan><tspan x="87.90" y="263.60" font-size="10.60">e</tspan><tspan x="99.00" y="257.60" font-size="19.50">-</tspan><tspan x="110.00" y="257.60" font-size="19.50">1</tspan><tspan x="125.50" y="257.60" font-size="19.50">x</tspan><tspan x="142.00" y="257.60" font-size="19.50">10</tspan><tspan x="163.40" y="248.00" font-size="10.80">21</tspan><tspan x="180.90" y="257.60" font-size="19.50">cm</tspan><tspan x="207.00" y="248.00" font-size="10.80">-3</tspan><tspan x="215.20" y="257.60" font-size="19.50">s</tspan><tspan x="226.00" y="248.00" font-size="10.80">-1</tspan><tspan x="241.20" y="257.60" font-size="19.50">(3-dec)</tspan></text>
<text x="53.10" y="69.00" font-size="16.00" text-anchor="start" >140 ns</text>
<text x="274.10" y="453.40" font-size="15.80" text-anchor="start" >5 mm</text>
<text x="82.10" y="484.00" font-size="16.00" text-anchor="start" >Min</text>
<text x="265.90" y="483.90" font-size="16.00" text-anchor="start" >Max</text>
<text x="99.00" y="352.60" font-size="16.00" text-anchor="start" >ns</text>
<text x="174.50" y="67.50" font-size="16.50" text-anchor="start" >190</text>
<text x="304.20" y="112.00" font-size="16.50" text-anchor="start" >270</text>
<text x="95.40" y="127.70" font-size="16.50" text-anchor="start" >190</text>
<text x="198.50" y="133.90" font-size="16.50" text-anchor="start" >270</text>
<text x="299.70" y="148.50" font-size="16.50" text-anchor="start" >480</text>
<text x="204.50" y="212.00" font-size="16.50" text-anchor="start" >480</text>
<text x="105.70" y="220.60" font-size="16.50" text-anchor="start" >270</text>
<text x="98.90" y="337.10" font-size="16.50" text-anchor="start" >75</text>
<text x="154.90" y="337.60" font-size="16.50" text-anchor="start" >95</text>
<text x="201.40" y="339.00" font-size="16.50" text-anchor="start" >110</text>
<text x="254.30" y="340.10" font-size="16.50" text-anchor="start" >130</text>
<text x="305.60" y="340.80" font-size="16.50" text-anchor="start" >145</text>
<text x="-0.30" y="231.80" font-size="18.00" text-anchor="start" >(a)</text>
<text x="-0.30" y="458.60" font-size="18.00" text-anchor="start" >(b)</text>
<text transform="translate(16.8,143) rotate(-90)" font-size="19" text-anchor="middle">+28 kV</text>
<text transform="translate(16.8,366.2) rotate(-90)" font-size="19" text-anchor="middle">-28 kV</text>
</g>
<line x1="325.40" y1="112.00" x2="325.40" y2="77.00" stroke="#333" stroke-width="0.85"/><path d="M325.40 77.00 L328.20 83.50 L322.60 83.50 Z" fill="#111" stroke="none"/>
<line x1="304.50" y1="106.70" x2="295.00" y2="106.70" stroke="#333" stroke-width="0.85"/><path d="M295.00 106.70 L301.50 103.90 L301.50 109.50 Z" fill="#111" stroke="none"/>
<line x1="110.00" y1="123.00" x2="88.60" y2="139.00" stroke="#333" stroke-width="0.85"/><path d="M88.60 139.00 L92.13 132.87 L95.48 137.35 Z" fill="#111" stroke="none"/>
<line x1="118.00" y1="117.00" x2="130.90" y2="107.00" stroke="#333" stroke-width="0.85"/><path d="M130.90 107.00 L127.48 113.20 L124.05 108.77 Z" fill="#111" stroke="none"/>
<line x1="200.00" y1="131.00" x2="189.40" y2="135.70" stroke="#333" stroke-width="0.85"/><path d="M189.40 135.70 L194.21 130.51 L196.48 135.62 Z" fill="#111" stroke="none"/>
<line x1="226.00" y1="127.00" x2="234.50" y2="123.60" stroke="#333" stroke-width="0.85"/><path d="M234.50 123.60 L229.50 128.61 L227.43 123.41 Z" fill="#111" stroke="none"/>
<line x1="98.40" y1="331.10" x2="84.60" y2="331.10" stroke="#333" stroke-width="0.85"/><path d="M84.60 331.10 L91.10 328.30 L91.10 333.90 Z" fill="#111" stroke="none"/>
<line x1="116.90" y1="330.00" x2="127.40" y2="310.00" stroke="#333" stroke-width="0.85"/><path d="M127.40 310.00 L126.86 317.06 L121.90 314.45 Z" fill="#111" stroke="none"/>
<line x1="153.60" y1="331.60" x2="136.20" y2="331.60" stroke="#333" stroke-width="0.85"/><path d="M136.20 331.60 L142.70 328.80 L142.70 334.40 Z" fill="#111" stroke="none"/>
<line x1="172.60" y1="329.40" x2="194.40" y2="310.00" stroke="#333" stroke-width="0.85"/><path d="M194.40 310.00 L191.41 316.41 L187.68 312.23 Z" fill="#111" stroke="none"/>
<line x1="201.60" y1="332.00" x2="187.80" y2="332.00" stroke="#333" stroke-width="0.85"/><path d="M187.80 332.00 L194.30 329.20 L194.30 334.80 Z" fill="#111" stroke="none"/>
<line x1="227.60" y1="336.00" x2="235.30" y2="310.70" stroke="#333" stroke-width="0.85"/><path d="M235.30 310.70 L236.09 317.73 L230.73 316.10 Z" fill="#111" stroke="none"/>
<line x1="254.20" y1="334.00" x2="241.20" y2="334.00" stroke="#333" stroke-width="0.85"/><path d="M241.20 334.00 L247.70 331.20 L247.70 336.80 Z" fill="#111" stroke="none"/>
<line x1="279.00" y1="336.00" x2="304.00" y2="312.50" stroke="#333" stroke-width="0.85"/><path d="M304.00 312.50 L301.18 318.99 L297.35 314.91 Z" fill="#111" stroke="none"/>
<line x1="305.20" y1="335.30" x2="294.80" y2="335.30" stroke="#333" stroke-width="0.85"/><path d="M294.80 335.30 L301.30 332.50 L301.30 338.10 Z" fill="#111" stroke="none"/>
<line x1="271.40" y1="461.40" x2="316.30" y2="461.40" stroke="#333" stroke-width="0.85"/><path d="M316.30 461.40 L309.80 464.20 L309.80 458.60 Z" fill="#111" stroke="none"/><path d="M271.40 461.40 L277.90 458.60 L277.90 464.20 Z" fill="#111" stroke="none"/>
<defs>
<linearGradient id="cb0" x1="0" x2="1" y1="0" y2="0"><stop offset="0" stop-color="#f4f4f4"/><stop offset="1" stop-color="#f0f0f0"/></linearGradient>
<linearGradient id="cb1" x1="0" x2="1" y1="0" y2="0"><stop offset="0" stop-color="#f0dcea"/><stop offset="1" stop-color="#bf5f9f"/></linearGradient>
<linearGradient id="cb2" x1="0" x2="1" y1="0" y2="0"><stop offset="0" stop-color="#3a3a8e"/><stop offset="1" stop-color="#44449a"/></linearGradient>
<linearGradient id="cb3" x1="0" x2="1" y1="0" y2="0"><stop offset="0" stop-color="#1e7870"/><stop offset="1" stop-color="#84c8cc"/></linearGradient>
<linearGradient id="cb4" x1="0" x2="1" y1="0" y2="0"><stop offset="0" stop-color="#1c6a2c"/><stop offset="1" stop-color="#66b070"/></linearGradient>
<linearGradient id="cb5" x1="0" x2="1" y1="0" y2="0"><stop offset="0" stop-color="#7a6030"/><stop offset="1" stop-color="#eae200"/></linearGradient>
<linearGradient id="cb6" x1="0" x2="1" y1="0" y2="0"><stop offset="0" stop-color="#6a3434"/><stop offset="1" stop-color="#e08424"/></linearGradient>
<linearGradient id="cb7" x1="0" x2="1" y1="0" y2="0"><stop offset="0" stop-color="#782434"/><stop offset="1" stop-color="#d42c2c"/></linearGradient>
</defs>
<rect x="108.80" y="471.80" width="19.47" height="13.00" fill="url(#cb0)"/>
<rect x="128.22" y="471.80" width="19.47" height="13.00" fill="url(#cb1)"/>
<rect x="147.64" y="471.80" width="19.47" height="13.00" fill="url(#cb2)"/>
<rect x="167.06" y="471.80" width="19.47" height="13.00" fill="url(#cb3)"/>
<rect x="186.48" y="471.80" width="19.47" height="13.00" fill="url(#cb4)"/>
<rect x="205.90" y="471.80" width="19.47" height="13.00" fill="url(#cb5)"/>
<rect x="225.32" y="471.80" width="19.47" height="13.00" fill="url(#cb6)"/>
<rect x="244.74" y="471.80" width="19.47" height="13.00" fill="url(#cb7)"/>
</svg></body></html>
